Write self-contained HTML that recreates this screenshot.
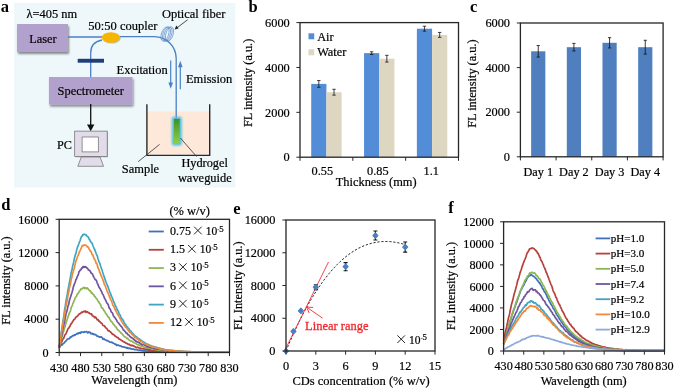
<!DOCTYPE html>
<html><head><meta charset="utf-8"><style>
html,body{margin:0;padding:0;background:#fff;width:675px;height:390px;overflow:hidden}
svg{display:block;font-family:"Liberation Serif", serif;will-change:transform}
</style></head><body>
<svg width="675" height="390" viewBox="0 0 675 390">
<rect width="675" height="390" fill="#fff"/>
<rect x="14" y="3" width="221.5" height="184.5" fill="#eef7fa"/>
<text x="0.8" y="12.2" font-size="16.5" font-weight="bold" fill="#000">a</text>
<defs><filter id="sh" x="-20%" y="-20%" width="140%" height="140%"><feGaussianBlur in="SourceAlpha" stdDeviation="0.9"/><feOffset dx="1.4" dy="1.6" result="b"/><feComponentTransfer><feFuncA type="linear" slope="0.45"/></feComponentTransfer><feMerge><feMergeNode/><feMergeNode in="SourceGraphic"/></feMerge></filter><filter id="glow" x="-80%" y="-40%" width="260%" height="180%"><feGaussianBlur stdDeviation="1.3"/></filter><linearGradient id="wg" x1="0" y1="0" x2="0" y2="1"><stop offset="0" stop-color="#3f8f2a"/><stop offset="1" stop-color="#8fd04a"/></linearGradient></defs>
<rect x="17" y="24" width="51" height="28" fill="#b3a1cd" filter="url(#sh)"/>
<rect x="49" y="77" width="83.5" height="27.6" fill="#b3a1cd" filter="url(#sh)"/>
<text x="29.3" y="42.6" font-size="12.3" text-anchor="start" fill="#000" stroke="#000" stroke-width="0.2" >Laser</text>
<text x="57.6" y="95.3" font-size="12.45" text-anchor="start" fill="#000" stroke="#000" stroke-width="0.2" >Spectrometer</text>
<text x="26.6" y="17.8" font-size="12.4" text-anchor="start" fill="#000" stroke="#000" stroke-width="0.2" >λ=405 nm</text>
<text x="88.3" y="30" font-size="12.5" text-anchor="start" fill="#000" stroke="#000" stroke-width="0.2" >50:50 coupler</text>
<text x="162" y="17.7" font-size="12.5" text-anchor="start" fill="#000" stroke="#000" stroke-width="0.2" >Optical fiber</text>
<text x="116.6" y="74.3" font-size="12.45" text-anchor="start" fill="#000" stroke="#000" stroke-width="0.2" >Excitation</text>
<text x="186" y="82.9" font-size="12.45" text-anchor="start" fill="#000" stroke="#000" stroke-width="0.2" >Emission</text>
<text x="57" y="148.9" font-size="12.2" text-anchor="start" fill="#000" stroke="#000" stroke-width="0.2" >PC</text>
<text x="121.8" y="172.9" font-size="12.45" text-anchor="start" fill="#000" stroke="#000" stroke-width="0.2" >Sample</text>
<text x="181.4" y="167.4" font-size="12.3" text-anchor="start" fill="#000" stroke="#000" stroke-width="0.2" >Hydrogel</text>
<text x="177.9" y="181.9" font-size="12.45" text-anchor="start" fill="#000" stroke="#000" stroke-width="0.2" >waveguide</text>
<path d="M68 37 H102" stroke="#4a7fc6" stroke-width="1.3" fill="none"/>
<path d="M120 36.6 H154.2 A22 22 0 0 1 176.2 58.6 V119" stroke="#4a7fc6" stroke-width="1.3" fill="none"/>
<path d="M102 40 Q90.7 42 90.7 53 V77" stroke="#4a7fc6" stroke-width="1.3" fill="none"/>
<ellipse cx="165.00" cy="34.1" rx="3.6" ry="7.4" transform="rotate(18 165.00 34.1)" stroke="#4a7fc6" stroke-width="0.6" fill="none"/>
<ellipse cx="166.50" cy="34.1" rx="3.6" ry="7.4" transform="rotate(18 166.50 34.1)" stroke="#4a7fc6" stroke-width="0.6" fill="none"/>
<ellipse cx="168.00" cy="34.1" rx="3.6" ry="7.4" transform="rotate(18 168.00 34.1)" stroke="#4a7fc6" stroke-width="0.6" fill="none"/>
<ellipse cx="169.50" cy="34.1" rx="3.6" ry="7.4" transform="rotate(18 169.50 34.1)" stroke="#4a7fc6" stroke-width="0.6" fill="none"/>
<ellipse cx="111.6" cy="38.3" rx="9.1" ry="5.2" fill="#9a8a70" opacity="0.5"/>
<ellipse cx="110.9" cy="37.5" rx="9.1" ry="5.2" fill="#f5b500"/>
<rect x="77.7" y="58.8" width="26.3" height="3.9" fill="#1f3e7a"/>
<path d="M90.7 104 V125" stroke="#111" stroke-width="1.3"/>
<path d="M87 124.5 L94.4 124.5 L90.7 131.2 Z" fill="#111"/>
<rect x="75.5" y="131.8" width="32.5" height="25.5" fill="#888" opacity="0.6"/>
<rect x="74.7" y="131.1" width="32.5" height="25.4" fill="#e2dbe9" stroke="#6a6a6a" stroke-width="0.7"/>
<rect x="82.1" y="137" width="16.2" height="14.9" fill="#fff" stroke="#6a6a6a" stroke-width="0.7"/>
<path d="M81.3 157 L100 157 L103.6 166.3 L77.8 166.3 Z" fill="#e2dbe9" stroke="#6a6a6a" stroke-width="0.7"/>
<rect x="147.6" y="111.5" width="61.4" height="43.3" fill="#fde8da"/>
<path d="M146.9 104.2 V155.4 H209.7 V104.2" stroke="#2a2a2a" stroke-width="1.4" fill="none"/>
<path d="M176.2 111.2 V119" stroke="#4a7fc6" stroke-width="1.3"/>
<rect x="171.8" y="116.8" width="10" height="28.6" rx="2" fill="#4cc3e0" opacity="1" filter="url(#glow)"/>
<rect x="173.9" y="118.9" width="5.8" height="24.5" fill="url(#wg)"/>
<path d="M170.7 60.4 V84" stroke="#4a7fc6" stroke-width="1.2"/>
<path d="M168.4 82.5 L173 82.5 L170.7 88.8 Z" fill="#4a7fc6"/>
<path d="M180.3 89.3 V66" stroke="#4a7fc6" stroke-width="1.2"/>
<path d="M178 67.2 L182.6 67.2 L180.3 60.8 Z" fill="#4a7fc6"/>
<path d="M138.2 161.7 L159.6 144.4" stroke="#333" stroke-width="0.8"/>
<path d="M180.4 138 L196.5 156.5" stroke="#333" stroke-width="0.8"/>
<path d="M187.7 19.7 L177 27.8" stroke="#222" stroke-width="0.8"/>
<path d="M174.6 29.5 L176.3 25.6 L178.6 28.6 Z" fill="#222"/>
<text x="248.6" y="12.4" font-size="16.5" font-weight="bold" fill="#000">b</text>
<rect x="311.22" y="83.91" width="15.2" height="73.29" fill="#538dd7"/>
<rect x="326.42" y="92.21" width="15.2" height="64.99" fill="#ddd6c1"/>
<path d="M318.81666666666666 80.54529999999998 V87.27529999999999 M317.1166666666667 80.54529999999998 H320.51666666666665 M317.1166666666667 87.27529999999999 H320.51666666666665" stroke="#151515" stroke-width="0.8" fill="none"/>
<path d="M334.0166666666667 89.29429999999999 V95.12696666666665 M332.3166666666667 89.29429999999999 H335.7166666666667 M332.3166666666667 95.12696666666665 H335.7166666666667" stroke="#151515" stroke-width="0.8" fill="none"/>
<rect x="364.05" y="53.11" width="15.2" height="104.09" fill="#538dd7"/>
<rect x="379.25" y="58.70" width="15.2" height="98.50" fill="#ddd6c1"/>
<path d="M371.65 51.76333333333332 V54.45533333333333 M369.95 51.76333333333332 H373.34999999999997 M369.95 54.45533333333333 H373.34999999999997" stroke="#151515" stroke-width="0.8" fill="none"/>
<path d="M386.85 55.330233333333325 V62.06023333333333 M385.15000000000003 55.330233333333325 H388.55 M385.15000000000003 62.06023333333333 H388.55" stroke="#151515" stroke-width="0.8" fill="none"/>
<rect x="416.88" y="28.70" width="15.2" height="128.50" fill="#538dd7"/>
<rect x="432.08" y="34.89" width="15.2" height="122.31" fill="#ddd6c1"/>
<path d="M424.48333333333335 26.234199999999987 V31.16953333333332 M422.78333333333336 26.234199999999987 H426.18333333333334 M422.78333333333336 31.16953333333332 H426.18333333333334" stroke="#151515" stroke-width="0.8" fill="none"/>
<path d="M439.6833333333334 32.425799999999995 V37.36113333333333 M437.9833333333334 32.425799999999995 H441.3833333333334 M437.9833333333334 37.36113333333333 H441.3833333333334" stroke="#151515" stroke-width="0.8" fill="none"/>
<rect x="300" y="22.6" width="158.5" height="134.6" fill="none" stroke="#262626" stroke-width="1.3"/>
<path d="M296.4 157.20 H300" stroke="#262626" stroke-width="1"/>
<text x="289.7" y="161.40" font-size="12.3" text-anchor="end" fill="#000" stroke="#000" stroke-width="0.2" >0</text>
<path d="M296.4 112.33 H300" stroke="#262626" stroke-width="1"/>
<text x="289.7" y="116.53" font-size="12.3" text-anchor="end" fill="#000" stroke="#000" stroke-width="0.2" >2000</text>
<path d="M296.4 67.47 H300" stroke="#262626" stroke-width="1"/>
<text x="289.7" y="71.67" font-size="12.3" text-anchor="end" fill="#000" stroke="#000" stroke-width="0.2" >4000</text>
<path d="M296.4 22.60 H300" stroke="#262626" stroke-width="1"/>
<text x="289.7" y="26.80" font-size="12.3" text-anchor="end" fill="#000" stroke="#000" stroke-width="0.2" >6000</text>
<path d="M300.00 157.2 V160.79999999999998" stroke="#262626" stroke-width="1"/>
<path d="M352.83 157.2 V160.79999999999998" stroke="#262626" stroke-width="1"/>
<path d="M405.67 157.2 V160.79999999999998" stroke="#262626" stroke-width="1"/>
<path d="M458.50 157.2 V160.79999999999998" stroke="#262626" stroke-width="1"/>
<text x="322.3" y="174.9" font-size="12.3" text-anchor="middle" fill="#000" stroke="#000" stroke-width="0.2" >0.55</text>
<text x="377.8" y="174.9" font-size="12.3" text-anchor="middle" fill="#000" stroke="#000" stroke-width="0.2" >0.85</text>
<text x="431.2" y="174.9" font-size="12.3" text-anchor="middle" fill="#000" stroke="#000" stroke-width="0.2" >1.1</text>
<text x="376.2" y="185.7" font-size="12.4" text-anchor="middle" fill="#000" stroke="#000" stroke-width="0.2" >Thickness (mm)</text>
<text x="252.3" y="82.9" font-size="12.3" text-anchor="middle" fill="#000" stroke="#000" stroke-width="0.2" transform="rotate(-90 252.3 82.9)">FL intensity (a.u.)</text>
<rect x="308.5" y="33.3" width="5.7" height="6" fill="#538dd7"/>
<rect x="308.5" y="49.3" width="5.7" height="6" fill="#ddd6c1"/>
<text x="317.2" y="40.8" font-size="12.3" text-anchor="start" fill="#000" stroke="#000" stroke-width="0.2" >Air</text>
<text x="317.2" y="56.3" font-size="12.3" text-anchor="start" fill="#000" stroke="#000" stroke-width="0.2" >Water</text>
<text x="470" y="12.4" font-size="16.5" font-weight="bold" fill="#000">c</text>
<rect x="531.14" y="51.30" width="14.2" height="105.50" fill="#4f7fbe"/>
<path d="M538.2375 45.54530000000001 V57.05210000000001 M536.6374999999999 45.54530000000001 H539.8375 M536.6374999999999 57.05210000000001 H539.8375" stroke="#151515" stroke-width="0.85" fill="none"/>
<rect x="566.81" y="47.20" width="14.2" height="109.60" fill="#4f7fbe"/>
<path d="M573.9125 43.40450000000001 V50.98650000000001 M572.3125 43.40450000000001 H575.5125 M572.3125 50.98650000000001 H575.5125" stroke="#151515" stroke-width="0.85" fill="none"/>
<rect x="602.49" y="42.80" width="14.2" height="114.00" fill="#4f7fbe"/>
<path d="M609.5875 37.673400000000015 V47.93140000000001 M607.9875 37.673400000000015 H611.1875 M607.9875 47.93140000000001 H611.1875" stroke="#151515" stroke-width="0.85" fill="none"/>
<rect x="638.16" y="47.20" width="14.2" height="109.60" fill="#4f7fbe"/>
<path d="M645.2625 40.28250000000001 V54.10850000000001 M643.6625 40.28250000000001 H646.8625000000001 M643.6625 54.10850000000001 H646.8625000000001" stroke="#151515" stroke-width="0.85" fill="none"/>
<rect x="520.4" y="23" width="142.70000000000005" height="133.8" fill="none" stroke="#262626" stroke-width="1.3"/>
<path d="M516.8 156.80 H520.4" stroke="#262626" stroke-width="1"/>
<text x="510" y="161.00" font-size="12.3" text-anchor="end" fill="#000" stroke="#000" stroke-width="0.2" >0</text>
<path d="M516.8 112.20 H520.4" stroke="#262626" stroke-width="1"/>
<text x="510" y="116.40" font-size="12.3" text-anchor="end" fill="#000" stroke="#000" stroke-width="0.2" >2000</text>
<path d="M516.8 67.60 H520.4" stroke="#262626" stroke-width="1"/>
<text x="510" y="71.80" font-size="12.3" text-anchor="end" fill="#000" stroke="#000" stroke-width="0.2" >4000</text>
<path d="M516.8 23.00 H520.4" stroke="#262626" stroke-width="1"/>
<text x="510" y="27.20" font-size="12.3" text-anchor="end" fill="#000" stroke="#000" stroke-width="0.2" >6000</text>
<path d="M520.40 156.8 V160.4" stroke="#262626" stroke-width="1"/>
<path d="M556.08 156.8 V160.4" stroke="#262626" stroke-width="1"/>
<path d="M591.75 156.8 V160.4" stroke="#262626" stroke-width="1"/>
<path d="M627.42 156.8 V160.4" stroke="#262626" stroke-width="1"/>
<path d="M663.10 156.8 V160.4" stroke="#262626" stroke-width="1"/>
<text x="538.24" y="175.9" font-size="12.25" text-anchor="middle" fill="#000" stroke="#000" stroke-width="0.2" >Day 1</text>
<text x="573.91" y="175.9" font-size="12.25" text-anchor="middle" fill="#000" stroke="#000" stroke-width="0.2" >Day 2</text>
<text x="609.59" y="175.9" font-size="12.25" text-anchor="middle" fill="#000" stroke="#000" stroke-width="0.2" >Day 3</text>
<text x="645.26" y="175.9" font-size="12.25" text-anchor="middle" fill="#000" stroke="#000" stroke-width="0.2" >Day 4</text>
<text x="475.7" y="83.6" font-size="12.3" text-anchor="middle" fill="#000" stroke="#000" stroke-width="0.2" transform="rotate(-90 475.7 83.6)">FL intensity (a.u.)</text>
<text x="1.2" y="209.6" font-size="16.5" font-weight="bold" fill="#000">d</text>
<polyline points="59.2,347.5 59.6,347.1 60.1,346.7 60.5,346.0 60.9,345.5 61.3,345.1 61.8,344.8 62.2,344.9 62.6,344.4 63.0,343.5 63.5,343.4 63.9,343.2 64.3,342.7 64.7,342.1 65.2,341.7 65.6,341.7 66.0,341.0 66.4,340.4 66.9,339.9 67.3,339.3 67.7,339.0 68.1,338.9 68.6,338.7 69.0,338.5 69.4,338.6 69.8,338.2 70.3,337.2 70.7,336.8 71.1,337.1 71.5,337.0 72.0,336.3 72.4,335.9 72.8,335.8 73.2,335.4 73.7,335.7 74.1,335.5 74.5,334.9 75.0,335.1 75.4,334.8 75.8,334.3 76.2,334.2 76.7,334.1 77.1,333.5 77.5,333.3 77.9,333.9 78.4,333.2 78.8,332.9 79.2,333.2 79.6,332.6 80.1,333.0 80.5,333.3 80.9,332.2 81.3,331.9 81.8,332.3 82.2,332.2 82.6,332.1 83.0,332.1 83.5,332.1 83.9,332.5 84.3,332.1 84.7,331.7 85.2,331.8 85.6,331.8 86.0,331.7 86.4,331.5 86.9,331.9 87.3,332.4 87.7,332.9 88.2,332.3 88.6,331.8 89.0,332.5 89.4,332.3 89.9,332.1 90.3,332.8 90.7,333.4 91.1,333.8 91.6,333.5 92.0,333.3 92.4,333.5 92.8,334.2 93.3,334.3 93.7,333.9 94.1,334.3 94.5,334.6 95.0,334.6 95.4,334.5 95.8,334.8 96.2,335.1 96.7,335.7 97.1,336.2 97.5,336.1 97.9,336.3 98.4,336.4 98.8,336.7 99.2,337.0 99.6,337.1 100.1,336.9 100.5,337.1 100.9,337.2 101.3,336.8 101.8,337.4 102.2,337.9 102.6,338.2 103.1,339.3 103.5,339.2 103.9,338.7 104.3,339.2 104.8,339.7 105.2,339.8 105.6,339.8 106.0,340.2 106.5,340.6 106.9,340.4 107.3,340.5 107.7,340.9 108.2,340.9 108.6,341.2 109.0,341.4 109.4,341.8 109.9,342.2 110.3,342.2 110.7,342.2 111.1,342.3 111.6,342.2 112.0,342.2 112.4,342.9 112.8,342.9 113.3,343.1 113.7,343.4 114.1,343.6 114.5,343.9 115.0,344.1 115.4,344.5 115.8,344.2 116.3,344.6 116.7,345.4 117.1,345.2 117.5,345.0 118.0,345.2 118.4,345.2 118.8,345.6 119.2,345.8 119.7,345.7 120.1,345.8 120.5,345.8 120.9,345.9 121.4,346.4 121.8,346.7 122.2,346.8 122.6,347.0 123.1,346.8 123.5,346.8 123.9,347.0 124.3,347.2 124.8,347.3 125.2,347.4 125.6,347.3 126.0,347.3 126.5,348.0 126.9,348.1 127.3,347.7 127.7,348.0 128.2,348.5 128.6,348.3 129.0,348.1 129.4,348.4 129.9,348.2 130.3,348.5 130.7,348.9 131.2,348.9 131.6,348.8 132.0,349.0 132.4,349.1 132.9,349.1 133.3,349.1 133.7,349.0 134.1,349.4 134.6,349.6 135.0,349.5 135.4,349.7 135.8,349.6 136.3,349.6 136.7,349.8 137.1,349.9 137.5,349.9 138.0,350.0 138.4,350.2 138.8,350.4 139.2,350.3 139.7,350.2 140.1,350.0 140.5,350.3 140.9,350.7 141.4,350.6 141.8,350.6 142.2,350.7 142.6,350.8 143.1,350.9 143.5,350.7 143.9,350.9 144.4,350.8 144.8,350.8 145.2,351.0 145.6,351.1 146.1,351.3 146.5,351.4 146.9,351.0 147.3,350.7 147.8,351.0 148.2,351.1 148.6,351.0 149.0,351.3 149.5,351.1 149.9,350.7 150.3,351.0 150.7,351.3 151.2,351.3 151.6,351.3 152.0,351.3 152.4,351.1 152.9,351.2 153.3,351.3 153.7,351.2 154.1,351.4 154.6,351.6 155.0,351.6 155.4,351.5 155.8,351.4 156.3,351.4 156.7,351.4 157.1,351.6 157.5,351.6 158.0,351.7 158.4,351.8 158.8,352.0 159.3,351.8 159.7,351.7 160.1,351.9 160.5,351.8 161.0,351.7 161.4,351.6 161.8,351.9 162.2,352.0 162.7,351.9 163.1,351.9 163.5,352.0 163.9,352.1 164.4,351.7 164.8,351.6 165.2,351.7 165.6,351.4 166.1,351.6 166.5,352.1 166.9,352.2 167.3,351.9 167.8,351.8 168.2,352.1 168.6,352.2 169.0,352.1 169.5,352.1 169.9,352.1 170.3,352.2 170.7,352.2 171.2,352.2 171.6,352.0 172.0,352.1 172.4,352.1 172.9,352.2 173.3,352.1 173.7,352.0 174.2,352.2 174.6,352.1 175.0,352.2 175.4,352.2 175.9,352.2 176.3,352.2 176.7,352.2 177.1,352.0 177.6,352.0 178.0,352.2 178.4,352.2 178.8,352.2 179.3,352.1 179.7,352.2 180.1,352.2 180.5,352.2 181.0,352.2 181.4,352.2 181.8,352.2 182.2,352.2 182.7,352.1 183.1,352.2 183.5,352.2 183.9,352.2 184.4,352.2 184.8,352.2 185.2,352.2 185.6,352.2 186.1,352.2 186.5,352.2 186.9,352.2 187.4,352.2 187.8,352.2 188.2,352.2 188.6,352.2 189.1,352.2 189.5,352.2 189.9,352.2 190.3,352.2 190.8,352.2 191.2,352.2 191.6,352.2 192.0,352.2 192.5,352.2 192.9,352.2 193.3,352.2 193.7,352.2 194.2,352.2 194.6,352.2 195.0,352.2 195.4,352.2 195.9,352.2 196.3,352.2 196.7,352.2 197.1,352.2 197.6,352.2 198.0,352.2 198.4,352.2 198.8,352.2 199.3,352.2 199.7,352.2 200.1,352.2 200.5,352.2 201.0,352.2 201.4,352.2 201.8,352.2 202.3,352.2 202.7,352.2 203.1,352.2 203.5,352.2 204.0,352.2 204.4,352.2 204.8,352.2 205.2,352.2 205.7,352.2 206.1,352.2 206.5,352.2 206.9,352.2 207.4,352.2 207.8,352.2 208.2,352.2 208.6,352.2 209.1,352.2 209.5,352.2 209.9,352.2 210.3,352.2 210.8,352.2 211.2,352.2 211.6,352.2 212.0,352.2 212.5,352.2 212.9,352.2 213.3,352.2 213.7,352.2 214.2,352.2 214.6,352.2 215.0,352.2 215.5,352.2 215.9,352.2 216.3,352.2 216.7,352.2 217.2,352.2 217.6,352.2 218.0,352.2 218.4,352.2 218.9,352.2 219.3,352.2 219.7,352.2 220.1,352.2 220.6,352.2 221.0,352.2 221.4,352.2 221.8,352.2 222.3,352.2 222.7,352.2 223.1,352.2 223.5,352.2 224.0,352.2 224.4,352.2 224.8,352.2 225.2,352.2 225.7,352.2 226.1,352.2 226.5,352.2 226.9,352.2 227.4,352.2 227.8,352.2 228.2,352.2 228.6,352.2 229.1,352.2 229.5,352.2" fill="none" stroke="#3f72b8" stroke-width="1.7" stroke-linejoin="round"/>
<polyline points="59.2,347.6 59.6,346.5 60.1,345.7 60.5,344.8 60.9,343.5 61.3,342.3 61.8,341.7 62.2,341.1 62.6,339.6 63.0,338.9 63.5,338.6 63.9,337.7 64.3,336.6 64.7,335.4 65.2,334.4 65.6,334.2 66.0,333.6 66.4,332.6 66.9,331.7 67.3,330.5 67.7,329.5 68.1,328.6 68.6,328.5 69.0,327.6 69.4,326.9 69.8,326.6 70.3,325.3 70.7,324.4 71.1,323.9 71.5,323.4 72.0,322.7 72.4,321.9 72.8,321.3 73.2,320.7 73.7,319.8 74.1,319.5 74.5,319.5 75.0,318.6 75.4,317.8 75.8,317.5 76.2,316.8 76.7,316.7 77.1,316.4 77.5,316.1 77.9,315.6 78.4,314.9 78.8,314.6 79.2,313.9 79.6,313.8 80.1,313.7 80.5,313.4 80.9,313.1 81.3,312.4 81.8,312.1 82.2,312.2 82.6,312.4 83.0,311.9 83.5,311.5 83.9,311.3 84.3,311.5 84.7,311.7 85.2,311.0 85.6,311.4 86.0,312.4 86.4,312.0 86.9,311.5 87.3,311.9 87.7,312.0 88.2,312.6 88.6,312.9 89.0,312.7 89.4,313.4 89.9,313.6 90.3,313.8 90.7,314.0 91.1,313.8 91.6,313.8 92.0,315.0 92.4,315.8 92.8,315.6 93.3,316.1 93.7,316.4 94.1,316.7 94.5,317.6 95.0,317.7 95.4,317.0 95.8,317.4 96.2,317.9 96.7,318.8 97.1,319.8 97.5,319.7 97.9,319.5 98.4,320.1 98.8,321.2 99.2,321.0 99.6,321.2 100.1,322.0 100.5,322.6 100.9,323.0 101.3,323.1 101.8,323.4 102.2,323.7 102.6,324.8 103.1,325.7 103.5,325.7 103.9,325.7 104.3,325.7 104.8,326.3 105.2,327.1 105.6,327.6 106.0,328.0 106.5,328.2 106.9,328.6 107.3,329.3 107.7,330.0 108.2,330.9 108.6,330.9 109.0,330.7 109.4,331.1 109.9,331.5 110.3,331.7 110.7,332.2 111.1,332.6 111.6,333.1 112.0,333.7 112.4,333.9 112.8,334.3 113.3,334.4 113.7,334.6 114.1,335.0 114.5,335.5 115.0,335.9 115.4,336.4 115.8,336.3 116.3,336.7 116.7,337.0 117.1,337.2 117.5,337.7 118.0,337.7 118.4,338.1 118.8,338.8 119.2,339.1 119.7,339.2 120.1,339.5 120.5,339.6 120.9,339.9 121.4,340.3 121.8,340.6 122.2,340.7 122.6,341.0 123.1,341.5 123.5,341.7 123.9,341.8 124.3,342.2 124.8,342.2 125.2,342.4 125.6,343.0 126.0,343.1 126.5,343.4 126.9,343.4 127.3,343.5 127.7,343.9 128.2,344.3 128.6,344.4 129.0,344.2 129.4,344.5 129.9,345.1 130.3,345.4 130.7,345.4 131.2,345.1 131.6,345.4 132.0,345.8 132.4,345.4 132.9,345.6 133.3,345.9 133.7,345.8 134.1,346.1 134.6,346.7 135.0,346.8 135.4,346.8 135.8,347.3 136.3,347.6 136.7,347.5 137.1,347.3 137.5,347.2 138.0,347.3 138.4,347.7 138.8,347.9 139.2,348.0 139.7,348.2 140.1,348.2 140.5,348.1 140.9,348.4 141.4,348.6 141.8,348.8 142.2,348.8 142.6,348.7 143.1,348.8 143.5,348.8 143.9,348.6 144.4,348.9 144.8,349.2 145.2,349.3 145.6,349.1 146.1,349.1 146.5,349.3 146.9,349.3 147.3,349.2 147.8,349.3 148.2,349.8 148.6,350.0 149.0,349.9 149.5,349.9 149.9,350.1 150.3,349.8 150.7,349.8 151.2,350.2 151.6,350.4 152.0,350.6 152.4,350.7 152.9,350.6 153.3,350.5 153.7,350.6 154.1,350.6 154.6,350.5 155.0,350.7 155.4,351.0 155.8,350.9 156.3,350.7 156.7,350.8 157.1,351.0 157.5,351.1 158.0,351.1 158.4,351.0 158.8,350.9 159.3,351.0 159.7,351.1 160.1,351.3 160.5,351.1 161.0,350.9 161.4,351.1 161.8,351.2 162.2,351.0 162.7,351.2 163.1,351.5 163.5,351.5 163.9,351.4 164.4,351.5 164.8,351.5 165.2,351.6 165.6,351.5 166.1,351.3 166.5,351.5 166.9,351.5 167.3,351.6 167.8,351.7 168.2,351.6 168.6,351.6 169.0,351.6 169.5,351.7 169.9,351.7 170.3,351.6 170.7,351.8 171.2,352.1 171.6,352.2 172.0,352.0 172.4,351.8 172.9,352.0 173.3,352.0 173.7,351.7 174.2,351.8 174.6,351.9 175.0,351.9 175.4,351.7 175.9,351.6 176.3,351.9 176.7,351.9 177.1,351.9 177.6,352.0 178.0,352.1 178.4,352.0 178.8,352.0 179.3,352.0 179.7,351.9 180.1,351.9 180.5,352.1 181.0,352.2 181.4,352.0 181.8,352.0 182.2,352.0 182.7,352.2 183.1,352.0 183.5,351.9 183.9,352.0 184.4,352.2 184.8,352.2 185.2,352.2 185.6,352.2 186.1,352.2 186.5,352.2 186.9,352.1 187.4,352.2 187.8,352.2 188.2,352.2 188.6,352.2 189.1,352.2 189.5,352.2 189.9,352.2 190.3,352.2 190.8,352.1 191.2,352.1 191.6,352.2 192.0,352.2 192.5,352.2 192.9,352.2 193.3,352.1 193.7,352.2 194.2,352.2 194.6,352.2 195.0,352.2 195.4,352.2 195.9,352.1 196.3,352.2 196.7,352.2 197.1,352.2 197.6,352.2 198.0,352.2 198.4,352.2 198.8,352.1 199.3,352.2 199.7,352.2 200.1,352.2 200.5,352.2 201.0,352.2 201.4,352.2 201.8,352.2 202.3,352.2 202.7,352.2 203.1,352.2 203.5,352.2 204.0,352.2 204.4,352.2 204.8,352.2 205.2,352.2 205.7,352.2 206.1,352.2 206.5,352.2 206.9,352.2 207.4,352.2 207.8,352.2 208.2,352.2 208.6,352.2 209.1,352.2 209.5,352.2 209.9,352.2 210.3,352.2 210.8,352.2 211.2,352.2 211.6,352.2 212.0,352.2 212.5,352.2 212.9,352.2 213.3,352.2 213.7,352.2 214.2,352.2 214.6,352.2 215.0,352.2 215.5,352.2 215.9,352.2 216.3,352.2 216.7,352.2 217.2,352.2 217.6,352.2 218.0,352.2 218.4,352.2 218.9,352.2 219.3,352.2 219.7,352.2 220.1,352.2 220.6,352.2 221.0,352.2 221.4,352.2 221.8,352.2 222.3,352.2 222.7,352.2 223.1,352.2 223.5,352.2 224.0,352.2 224.4,352.2 224.8,352.2 225.2,352.2 225.7,352.2 226.1,352.2 226.5,352.2 226.9,352.2 227.4,352.2 227.8,352.2 228.2,352.2 228.6,352.2 229.1,352.2 229.5,352.2" fill="none" stroke="#b8403c" stroke-width="1.7" stroke-linejoin="round"/>
<polyline points="59.2,347.6 59.6,345.9 60.1,344.3 60.5,342.7 60.9,341.2 61.3,339.7 61.8,338.0 62.2,336.5 62.6,334.6 63.0,333.0 63.5,331.7 63.9,330.3 64.3,328.6 64.7,327.5 65.2,326.4 65.6,324.4 66.0,322.6 66.4,321.4 66.9,320.5 67.3,319.1 67.7,317.8 68.1,316.5 68.6,315.4 69.0,314.1 69.4,312.8 69.8,312.0 70.3,311.5 70.7,309.9 71.1,307.9 71.5,306.9 72.0,306.1 72.4,305.0 72.8,303.6 73.2,302.9 73.7,301.8 74.1,300.6 74.5,299.8 75.0,298.5 75.4,297.4 75.8,297.0 76.2,296.6 76.7,295.9 77.1,294.5 77.5,293.7 77.9,293.7 78.4,293.3 78.8,292.4 79.2,291.4 79.6,291.0 80.1,290.5 80.5,289.5 80.9,288.9 81.3,289.3 81.8,289.2 82.2,288.7 82.6,288.2 83.0,287.9 83.5,287.7 83.9,287.3 84.3,288.3 84.7,288.6 85.2,287.8 85.6,287.7 86.0,288.1 86.4,288.6 86.9,288.6 87.3,287.9 87.7,288.3 88.2,289.1 88.6,289.5 89.0,290.2 89.4,290.6 89.9,290.9 90.3,290.8 90.7,291.3 91.1,292.7 91.6,293.1 92.0,293.0 92.4,293.3 92.8,294.3 93.3,294.5 93.7,294.5 94.1,295.5 94.5,296.3 95.0,296.6 95.4,297.1 95.8,297.7 96.2,298.3 96.7,298.9 97.1,299.2 97.5,299.9 97.9,301.1 98.4,301.5 98.8,301.8 99.2,302.9 99.6,303.4 100.1,303.9 100.5,304.6 100.9,305.5 101.3,307.1 101.8,308.0 102.2,308.0 102.6,308.3 103.1,309.1 103.5,309.6 103.9,310.6 104.3,310.9 104.8,311.5 105.2,312.5 105.6,313.2 106.0,313.9 106.5,314.1 106.9,314.8 107.3,315.8 107.7,316.3 108.2,316.9 108.6,317.4 109.0,317.4 109.4,318.4 109.9,319.7 110.3,320.1 110.7,320.5 111.1,321.3 111.6,321.8 112.0,322.0 112.4,322.6 112.8,323.6 113.3,323.9 113.7,324.5 114.1,325.2 114.5,325.2 115.0,326.2 115.4,326.9 115.8,326.9 116.3,327.4 116.7,328.3 117.1,329.2 117.5,329.4 118.0,329.7 118.4,330.4 118.8,330.6 119.2,331.0 119.7,331.6 120.1,331.9 120.5,332.2 120.9,332.8 121.4,333.3 121.8,333.6 122.2,333.9 122.6,334.6 123.1,335.1 123.5,335.5 123.9,336.0 124.3,336.4 124.8,336.9 125.2,337.0 125.6,337.1 126.0,337.5 126.5,338.0 126.9,338.7 127.3,338.4 127.7,338.2 128.2,339.0 128.6,339.6 129.0,339.9 129.4,340.1 129.9,340.3 130.3,340.7 130.7,340.9 131.2,341.2 131.6,341.1 132.0,341.3 132.4,341.8 132.9,342.1 133.3,342.4 133.7,342.4 134.1,342.7 134.6,342.9 135.0,343.0 135.4,343.1 135.8,343.4 136.3,344.0 136.7,344.3 137.1,344.4 137.5,344.6 138.0,344.8 138.4,344.8 138.8,345.1 139.2,345.5 139.7,345.5 140.1,345.5 140.5,345.7 140.9,345.9 141.4,345.9 141.8,346.2 142.2,346.4 142.6,346.5 143.1,346.6 143.5,346.7 143.9,347.0 144.4,347.0 144.8,347.4 145.2,347.6 145.6,347.7 146.1,347.9 146.5,347.7 146.9,347.6 147.3,347.9 147.8,348.1 148.2,348.1 148.6,348.2 149.0,348.0 149.5,348.2 149.9,348.2 150.3,348.4 150.7,348.7 151.2,348.6 151.6,348.8 152.0,349.0 152.4,348.9 152.9,348.7 153.3,348.9 153.7,348.9 154.1,349.0 154.6,349.5 155.0,349.6 155.4,349.6 155.8,349.6 156.3,349.6 156.7,349.8 157.1,349.8 157.5,350.0 158.0,350.3 158.4,350.3 158.8,350.2 159.3,350.1 159.7,350.2 160.1,350.3 160.5,350.4 161.0,350.5 161.4,350.6 161.8,350.5 162.2,350.3 162.7,350.7 163.1,350.7 163.5,350.5 163.9,350.6 164.4,350.6 164.8,350.7 165.2,351.1 165.6,351.3 166.1,350.9 166.5,350.7 166.9,350.9 167.3,351.1 167.8,351.1 168.2,350.9 168.6,351.2 169.0,351.4 169.5,351.3 169.9,351.1 170.3,351.0 170.7,351.1 171.2,351.0 171.6,351.2 172.0,351.4 172.4,351.4 172.9,351.7 173.3,351.8 173.7,351.5 174.2,351.5 174.6,351.7 175.0,351.6 175.4,351.4 175.9,351.5 176.3,351.4 176.7,351.6 177.1,351.6 177.6,351.3 178.0,351.6 178.4,351.7 178.8,351.7 179.3,351.8 179.7,351.8 180.1,351.9 180.5,351.7 181.0,351.6 181.4,351.8 181.8,351.8 182.2,351.9 182.7,351.8 183.1,351.7 183.5,351.9 183.9,352.0 184.4,351.9 184.8,352.1 185.2,352.2 185.6,352.1 186.1,351.9 186.5,352.2 186.9,352.2 187.4,352.1 187.8,352.0 188.2,352.0 188.6,352.0 189.1,352.0 189.5,352.1 189.9,352.1 190.3,352.0 190.8,351.9 191.2,352.0 191.6,352.0 192.0,352.0 192.5,352.2 192.9,352.2 193.3,352.2 193.7,352.2 194.2,352.2 194.6,352.2 195.0,352.1 195.4,352.2 195.9,352.2 196.3,352.2 196.7,352.2 197.1,352.2 197.6,352.1 198.0,352.1 198.4,352.2 198.8,352.2 199.3,352.2 199.7,352.2 200.1,352.0 200.5,352.0 201.0,352.0 201.4,352.1 201.8,352.2 202.3,352.2 202.7,352.2 203.1,352.1 203.5,352.2 204.0,352.2 204.4,352.2 204.8,352.2 205.2,352.2 205.7,352.2 206.1,352.2 206.5,352.2 206.9,352.2 207.4,352.2 207.8,352.2 208.2,352.2 208.6,352.2 209.1,352.2 209.5,352.2 209.9,352.2 210.3,352.2 210.8,352.2 211.2,352.2 211.6,352.2 212.0,352.2 212.5,352.2 212.9,352.2 213.3,352.2 213.7,352.2 214.2,352.2 214.6,352.2 215.0,352.2 215.5,352.2 215.9,352.2 216.3,352.2 216.7,352.2 217.2,352.2 217.6,352.2 218.0,352.2 218.4,352.2 218.9,352.2 219.3,352.2 219.7,352.2 220.1,352.2 220.6,352.2 221.0,352.2 221.4,352.2 221.8,352.2 222.3,352.2 222.7,352.2 223.1,352.2 223.5,352.2 224.0,352.2 224.4,352.2 224.8,352.2 225.2,352.2 225.7,352.2 226.1,352.2 226.5,352.2 226.9,352.2 227.4,352.2 227.8,352.2 228.2,352.2 228.6,352.2 229.1,352.2 229.5,352.2" fill="none" stroke="#8fb552" stroke-width="1.7" stroke-linejoin="round"/>
<polyline points="59.2,347.5 59.6,345.0 60.1,342.7 60.5,340.8 60.9,338.9 61.3,336.9 61.8,334.7 62.2,332.4 62.6,330.2 63.0,328.3 63.5,326.4 63.9,324.4 64.3,322.9 64.7,320.8 65.2,318.2 65.6,316.2 66.0,314.3 66.4,312.4 66.9,311.2 67.3,309.8 67.7,307.4 68.1,305.8 68.6,304.7 69.0,302.8 69.4,300.7 69.8,299.1 70.3,297.8 70.7,296.5 71.1,295.2 71.5,293.9 72.0,292.4 72.4,291.0 72.8,289.5 73.2,287.4 73.7,285.8 74.1,285.0 74.5,283.7 75.0,282.6 75.4,281.5 75.8,279.8 76.2,279.2 76.7,278.5 77.1,277.1 77.5,276.2 77.9,275.5 78.4,274.4 78.8,272.5 79.2,271.4 79.6,271.1 80.1,270.3 80.5,269.8 80.9,269.8 81.3,269.0 81.8,267.8 82.2,268.1 82.6,267.9 83.0,266.6 83.5,266.5 83.9,267.0 84.3,266.7 84.7,266.9 85.2,267.1 85.6,266.7 86.0,267.1 86.4,267.8 86.9,267.9 87.3,268.0 87.7,268.5 88.2,269.7 88.6,269.9 89.0,269.9 89.4,270.6 89.9,270.6 90.3,271.4 90.7,272.2 91.1,273.0 91.6,273.4 92.0,273.5 92.4,273.9 92.8,274.9 93.3,275.9 93.7,276.9 94.1,277.6 94.5,278.2 95.0,279.3 95.4,279.8 95.8,279.8 96.2,280.2 96.7,281.1 97.1,282.7 97.5,283.7 97.9,284.4 98.4,285.7 98.8,286.7 99.2,287.6 99.6,288.0 100.1,288.6 100.5,289.5 100.9,290.5 101.3,291.2 101.8,292.1 102.2,293.5 102.6,294.0 103.1,294.5 103.5,295.6 103.9,296.5 104.3,297.8 104.8,298.6 105.2,299.5 105.6,300.0 106.0,300.9 106.5,302.1 106.9,302.8 107.3,303.8 107.7,303.9 108.2,304.5 108.6,306.0 109.0,307.4 109.4,308.3 109.9,308.8 110.3,309.2 110.7,310.2 111.1,311.8 111.6,312.2 112.0,312.5 112.4,312.9 112.8,313.9 113.3,315.6 113.7,316.3 114.1,316.7 114.5,317.4 115.0,317.6 115.4,318.5 115.8,319.1 116.3,319.5 116.7,320.5 117.1,321.3 117.5,322.0 118.0,322.5 118.4,322.9 118.8,323.2 119.2,324.0 119.7,324.7 120.1,325.0 120.5,325.5 120.9,326.2 121.4,326.6 121.8,327.0 122.2,327.6 122.6,328.4 123.1,329.3 123.5,330.2 123.9,330.3 124.3,330.3 124.8,331.3 125.2,331.8 125.6,332.0 126.0,332.9 126.5,333.3 126.9,333.2 127.3,333.5 127.7,334.2 128.2,334.9 128.6,335.0 129.0,335.1 129.4,335.8 129.9,336.5 130.3,336.7 130.7,337.0 131.2,337.6 131.6,337.5 132.0,337.7 132.4,338.4 132.9,338.7 133.3,338.6 133.7,339.0 134.1,339.8 134.6,340.4 135.0,340.2 135.4,340.6 135.8,341.1 136.3,341.1 136.7,341.7 137.1,342.0 137.5,342.1 138.0,342.0 138.4,342.3 138.8,342.6 139.2,342.4 139.7,343.1 140.1,343.8 140.5,343.9 140.9,343.9 141.4,344.0 141.8,344.6 142.2,344.8 142.6,344.8 143.1,344.6 143.5,344.7 143.9,344.8 144.4,344.7 144.8,345.2 145.2,345.5 145.6,345.6 146.1,345.9 146.5,346.4 146.9,346.7 147.3,346.6 147.8,346.7 148.2,346.8 148.6,346.7 149.0,347.1 149.5,347.1 149.9,347.0 150.3,347.2 150.7,347.3 151.2,347.8 151.6,347.8 152.0,347.8 152.4,347.9 152.9,347.8 153.3,347.9 153.7,348.3 154.1,348.9 154.6,348.8 155.0,348.6 155.4,348.7 155.8,348.8 156.3,348.9 156.7,349.1 157.1,349.1 157.5,349.2 158.0,349.2 158.4,349.2 158.8,349.1 159.3,349.2 159.7,349.3 160.1,349.4 160.5,349.5 161.0,349.6 161.4,349.8 161.8,349.7 162.2,349.7 162.7,349.8 163.1,350.0 163.5,350.4 163.9,350.4 164.4,350.3 164.8,350.4 165.2,350.3 165.6,350.4 166.1,350.5 166.5,350.1 166.9,350.5 167.3,351.0 167.8,350.7 168.2,350.6 168.6,350.7 169.0,350.7 169.5,350.6 169.9,350.6 170.3,350.8 170.7,351.0 171.2,351.1 171.6,351.1 172.0,351.3 172.4,351.2 172.9,351.0 173.3,350.9 173.7,350.8 174.2,351.2 174.6,351.3 175.0,351.2 175.4,351.3 175.9,351.2 176.3,351.2 176.7,351.3 177.1,351.3 177.6,351.4 178.0,351.6 178.4,351.5 178.8,351.3 179.3,351.4 179.7,351.5 180.1,351.6 180.5,351.9 181.0,351.9 181.4,351.7 181.8,351.6 182.2,351.6 182.7,351.5 183.1,351.5 183.5,351.6 183.9,351.7 184.4,351.8 184.8,351.8 185.2,351.7 185.6,351.7 186.1,351.9 186.5,352.0 186.9,352.1 187.4,352.1 187.8,352.1 188.2,352.0 188.6,352.0 189.1,352.2 189.5,352.1 189.9,351.9 190.3,352.2 190.8,352.2 191.2,352.1 191.6,352.2 192.0,352.1 192.5,352.0 192.9,352.0 193.3,351.9 193.7,351.9 194.2,352.0 194.6,352.1 195.0,352.1 195.4,352.0 195.9,352.1 196.3,352.2 196.7,352.2 197.1,352.2 197.6,352.1 198.0,352.2 198.4,352.2 198.8,352.0 199.3,352.1 199.7,352.2 200.1,352.2 200.5,352.1 201.0,352.2 201.4,352.2 201.8,352.2 202.3,352.2 202.7,352.1 203.1,352.2 203.5,352.2 204.0,352.2 204.4,352.2 204.8,352.2 205.2,352.2 205.7,352.2 206.1,352.2 206.5,352.2 206.9,352.2 207.4,352.2 207.8,352.0 208.2,352.1 208.6,352.2 209.1,352.2 209.5,352.2 209.9,352.2 210.3,352.1 210.8,352.2 211.2,352.2 211.6,352.2 212.0,352.2 212.5,352.2 212.9,352.2 213.3,352.2 213.7,352.2 214.2,352.2 214.6,352.2 215.0,352.2 215.5,352.2 215.9,352.2 216.3,352.2 216.7,352.2 217.2,352.2 217.6,352.2 218.0,352.2 218.4,352.2 218.9,352.2 219.3,352.2 219.7,352.2 220.1,352.1 220.6,352.2 221.0,352.2 221.4,352.2 221.8,352.2 222.3,352.2 222.7,352.2 223.1,352.2 223.5,352.2 224.0,352.2 224.4,352.2 224.8,352.2 225.2,352.2 225.7,352.2 226.1,352.2 226.5,352.2 226.9,352.2 227.4,352.2 227.8,352.2 228.2,352.2 228.6,352.2 229.1,352.2 229.5,352.2" fill="none" stroke="#6f55a0" stroke-width="1.7" stroke-linejoin="round"/>
<polyline points="59.2,347.4 59.6,344.3 60.1,341.2 60.5,338.0 60.9,335.4 61.3,332.4 61.8,329.1 62.2,326.5 62.6,323.7 63.0,320.6 63.5,317.9 63.9,315.4 64.3,312.1 64.7,309.0 65.2,306.6 65.6,303.9 66.0,301.3 66.4,298.8 66.9,296.6 67.3,294.1 67.7,291.6 68.1,289.5 68.6,286.9 69.0,284.5 69.4,282.8 69.8,280.6 70.3,277.9 70.7,275.6 71.1,273.4 71.5,271.4 72.0,269.8 72.4,267.5 72.8,265.3 73.2,263.9 73.7,262.0 74.1,259.9 74.5,258.0 75.0,256.0 75.4,254.5 75.8,253.7 76.2,252.2 76.7,249.9 77.1,248.4 77.5,247.1 77.9,246.1 78.4,244.9 78.8,244.0 79.2,242.9 79.6,241.6 80.1,240.6 80.5,239.3 80.9,237.9 81.3,236.9 81.8,236.5 82.2,235.9 82.6,234.7 83.0,234.6 83.5,234.8 83.9,234.2 84.3,234.3 84.7,234.5 85.2,234.8 85.6,234.7 86.0,234.6 86.4,235.4 86.9,236.1 87.3,236.3 87.7,236.6 88.2,237.0 88.6,237.7 89.0,238.9 89.4,239.2 89.9,240.0 90.3,241.3 90.7,241.5 91.1,242.3 91.6,242.8 92.0,243.0 92.4,243.9 92.8,245.2 93.3,246.5 93.7,247.4 94.1,248.6 94.5,249.1 95.0,250.3 95.4,251.6 95.8,252.4 96.2,253.8 96.7,254.7 97.1,255.6 97.5,256.8 97.9,258.4 98.4,260.0 98.8,261.3 99.2,262.1 99.6,263.0 100.1,264.2 100.5,265.7 100.9,266.7 101.3,268.1 101.8,269.7 102.2,270.4 102.6,271.9 103.1,273.6 103.5,274.8 103.9,276.0 104.3,277.2 104.8,278.4 105.2,279.9 105.6,280.8 106.0,282.0 106.5,283.3 106.9,284.1 107.3,285.1 107.7,286.1 108.2,287.7 108.6,288.6 109.0,289.7 109.4,291.2 109.9,292.3 110.3,292.8 110.7,293.8 111.1,295.5 111.6,296.5 112.0,297.4 112.4,298.1 112.8,299.3 113.3,300.7 113.7,301.7 114.1,302.5 114.5,303.4 115.0,304.7 115.4,305.7 115.8,306.5 116.3,307.1 116.7,308.7 117.1,309.6 117.5,309.8 118.0,310.8 118.4,311.6 118.8,312.8 119.2,314.2 119.7,314.6 120.1,314.7 120.5,315.9 120.9,317.2 121.4,317.9 121.8,318.7 122.2,319.1 122.6,319.6 123.1,320.2 123.5,320.6 123.9,321.8 124.3,322.6 124.8,323.5 125.2,324.3 125.6,324.4 126.0,325.1 126.5,326.2 126.9,326.7 127.3,326.8 127.7,327.3 128.2,328.4 128.6,328.8 129.0,328.9 129.4,329.7 129.9,330.4 130.3,330.6 130.7,331.0 131.2,331.5 131.6,332.1 132.0,332.7 132.4,333.3 132.9,333.9 133.3,333.9 133.7,334.3 134.1,335.1 134.6,335.5 135.0,335.9 135.4,336.1 135.8,336.2 136.3,336.8 136.7,337.2 137.1,337.1 137.5,337.7 138.0,338.3 138.4,338.4 138.8,338.7 139.2,338.8 139.7,339.2 140.1,339.6 140.5,340.2 140.9,340.2 141.4,340.5 141.8,341.0 142.2,341.0 142.6,341.5 143.1,341.9 143.5,341.9 143.9,342.4 144.4,342.7 144.8,342.7 145.2,343.1 145.6,343.5 146.1,343.6 146.5,343.8 146.9,344.0 147.3,344.2 147.8,344.4 148.2,344.4 148.6,344.9 149.0,345.2 149.5,345.2 149.9,345.6 150.3,345.8 150.7,345.6 151.2,345.8 151.6,345.9 152.0,346.1 152.4,346.6 152.9,346.5 153.3,346.4 153.7,346.6 154.1,346.9 154.6,346.9 155.0,347.1 155.4,347.1 155.8,347.1 156.3,347.4 156.7,347.5 157.1,347.7 157.5,347.7 158.0,347.9 158.4,348.1 158.8,348.1 159.3,348.0 159.7,348.1 160.1,348.4 160.5,348.5 161.0,348.6 161.4,348.9 161.8,349.1 162.2,349.2 162.7,349.2 163.1,348.9 163.5,349.2 163.9,349.4 164.4,349.5 164.8,349.5 165.2,349.6 165.6,349.8 166.1,349.8 166.5,349.8 166.9,349.9 167.3,349.9 167.8,349.9 168.2,350.1 168.6,350.1 169.0,350.2 169.5,350.3 169.9,350.3 170.3,350.3 170.7,350.3 171.2,350.5 171.6,350.6 172.0,350.3 172.4,350.3 172.9,350.4 173.3,350.8 173.7,350.9 174.2,350.8 174.6,350.7 175.0,350.7 175.4,350.9 175.9,351.1 176.3,351.0 176.7,350.9 177.1,351.1 177.6,350.9 178.0,350.9 178.4,351.0 178.8,350.8 179.3,351.0 179.7,351.3 180.1,351.2 180.5,351.1 181.0,351.3 181.4,351.5 181.8,351.4 182.2,351.6 182.7,351.5 183.1,351.4 183.5,351.5 183.9,351.4 184.4,351.5 184.8,351.5 185.2,351.6 185.6,351.7 186.1,351.6 186.5,351.5 186.9,351.6 187.4,351.6 187.8,351.5 188.2,351.6 188.6,351.6 189.1,351.6 189.5,351.7 189.9,351.9 190.3,352.1 190.8,351.9 191.2,351.8 191.6,352.0 192.0,352.1 192.5,351.9 192.9,351.9 193.3,351.9 193.7,352.0 194.2,352.0 194.6,352.1 195.0,352.0 195.4,351.9 195.9,351.9 196.3,352.0 196.7,352.1 197.1,351.9 197.6,352.1 198.0,352.2 198.4,352.0 198.8,351.9 199.3,351.9 199.7,351.9 200.1,352.1 200.5,352.0 201.0,352.0 201.4,352.0 201.8,352.0 202.3,352.1 202.7,352.2 203.1,352.1 203.5,351.9 204.0,352.1 204.4,352.2 204.8,352.1 205.2,352.1 205.7,352.1 206.1,352.1 206.5,352.2 206.9,352.2 207.4,352.2 207.8,352.2 208.2,352.1 208.6,352.1 209.1,352.2 209.5,352.2 209.9,352.2 210.3,352.2 210.8,352.2 211.2,352.1 211.6,352.2 212.0,352.2 212.5,352.2 212.9,352.1 213.3,352.1 213.7,352.2 214.2,352.1 214.6,352.2 215.0,352.2 215.5,352.1 215.9,352.2 216.3,352.2 216.7,352.2 217.2,352.2 217.6,352.2 218.0,352.2 218.4,352.2 218.9,352.2 219.3,352.2 219.7,352.2 220.1,352.2 220.6,352.2 221.0,352.2 221.4,352.2 221.8,352.2 222.3,352.2 222.7,352.2 223.1,352.2 223.5,352.2 224.0,352.2 224.4,352.2 224.8,352.2 225.2,352.2 225.7,352.2 226.1,352.2 226.5,352.2 226.9,352.2 227.4,352.2 227.8,352.2 228.2,352.2 228.6,352.2 229.1,352.2 229.5,352.2" fill="none" stroke="#3ea6c2" stroke-width="1.7" stroke-linejoin="round"/>
<polyline points="59.2,347.4 59.6,344.5 60.1,341.6 60.5,338.8 60.9,336.4 61.3,333.5 61.8,330.7 62.2,328.5 62.6,325.9 63.0,323.2 63.5,320.5 63.9,318.2 64.3,316.2 64.7,313.5 65.2,310.5 65.6,307.8 66.0,306.1 66.4,304.4 66.9,301.9 67.3,299.6 67.7,297.2 68.1,294.6 68.6,292.6 69.0,290.7 69.4,288.2 69.8,286.3 70.3,285.0 70.7,282.6 71.1,279.9 71.5,278.4 72.0,276.8 72.4,274.2 72.8,272.9 73.2,271.8 73.7,269.8 74.1,268.7 74.5,267.2 75.0,264.9 75.4,263.4 75.8,261.8 76.2,260.2 76.7,259.2 77.1,257.9 77.5,256.4 77.9,255.8 78.4,255.0 78.8,253.6 79.2,252.5 79.6,251.4 80.1,250.7 80.5,249.7 80.9,249.0 81.3,248.0 81.8,246.7 82.2,245.9 82.6,245.4 83.0,245.6 83.5,245.8 83.9,245.3 84.3,244.9 84.7,245.1 85.2,245.1 85.6,245.0 86.0,245.5 86.4,245.6 86.9,246.0 87.3,246.9 87.7,247.1 88.2,247.2 88.6,247.5 89.0,248.9 89.4,249.5 89.9,250.1 90.3,251.3 90.7,251.4 91.1,251.7 91.6,252.8 92.0,254.5 92.4,254.7 92.8,255.0 93.3,256.4 93.7,257.5 94.1,258.7 94.5,259.4 95.0,259.9 95.4,260.7 95.8,262.1 96.2,263.3 96.7,263.1 97.1,264.3 97.5,266.0 97.9,267.6 98.4,268.6 98.8,269.2 99.2,270.5 99.6,272.0 100.1,273.0 100.5,273.9 100.9,275.2 101.3,275.9 101.8,276.9 102.2,278.1 102.6,279.0 103.1,280.4 103.5,281.4 103.9,282.5 104.3,284.2 104.8,285.0 105.2,285.7 105.6,286.7 106.0,288.1 106.5,289.5 106.9,290.5 107.3,291.6 107.7,292.5 108.2,293.4 108.6,294.2 109.0,295.3 109.4,296.8 109.9,297.5 110.3,298.7 110.7,300.0 111.1,300.1 111.6,300.9 112.0,302.2 112.4,303.4 112.8,305.2 113.3,305.8 113.7,306.1 114.1,307.1 114.5,308.1 115.0,309.1 115.4,310.2 115.8,310.7 116.3,311.6 116.7,312.5 117.1,313.0 117.5,314.3 118.0,315.2 118.4,315.5 118.8,316.0 119.2,316.8 119.7,317.7 120.1,318.8 120.5,319.3 120.9,319.8 121.4,320.9 121.8,321.6 122.2,322.3 122.6,323.1 123.1,323.7 123.5,324.3 123.9,324.9 124.3,325.7 124.8,325.8 125.2,326.3 125.6,327.2 126.0,327.5 126.5,327.9 126.9,328.2 127.3,328.8 127.7,329.6 128.2,330.2 128.6,330.6 129.0,331.3 129.4,332.0 129.9,332.2 130.3,332.5 130.7,332.9 131.2,333.3 131.6,333.7 132.0,334.4 132.4,334.8 132.9,335.0 133.3,335.4 133.7,335.9 134.1,336.3 134.6,337.1 135.0,337.6 135.4,337.6 135.8,337.6 136.3,337.8 136.7,338.1 137.1,338.8 137.5,339.2 138.0,339.4 138.4,339.8 138.8,340.1 139.2,340.7 139.7,340.8 140.1,340.9 140.5,341.1 140.9,341.6 141.4,341.8 141.8,341.7 142.2,341.9 142.6,342.2 143.1,342.7 143.5,343.5 143.9,343.5 144.4,343.5 144.8,343.9 145.2,343.8 145.6,343.9 146.1,344.2 146.5,344.4 146.9,344.9 147.3,344.9 147.8,344.9 148.2,345.3 148.6,345.4 149.0,345.5 149.5,345.9 149.9,346.1 150.3,346.2 150.7,346.4 151.2,346.2 151.6,346.5 152.0,347.2 152.4,347.2 152.9,347.2 153.3,347.0 153.7,347.0 154.1,347.2 154.6,347.3 155.0,347.6 155.4,347.7 155.8,347.7 156.3,347.7 156.7,347.8 157.1,348.1 157.5,348.2 158.0,348.2 158.4,348.6 158.8,348.6 159.3,348.4 159.7,348.5 160.1,348.9 160.5,349.3 161.0,349.3 161.4,349.1 161.8,349.0 162.2,349.3 162.7,349.4 163.1,349.5 163.5,349.8 163.9,349.7 164.4,349.7 164.8,349.9 165.2,350.0 165.6,349.9 166.1,349.9 166.5,350.0 166.9,349.9 167.3,350.0 167.8,350.1 168.2,350.1 168.6,350.0 169.0,350.0 169.5,350.4 169.9,350.8 170.3,350.7 170.7,350.7 171.2,350.6 171.6,350.5 172.0,350.7 172.4,350.6 172.9,350.5 173.3,350.7 173.7,350.8 174.2,350.7 174.6,350.8 175.0,350.9 175.4,351.0 175.9,351.1 176.3,351.0 176.7,351.1 177.1,351.1 177.6,351.1 178.0,351.1 178.4,351.2 178.8,351.4 179.3,351.4 179.7,351.2 180.1,351.1 180.5,351.3 181.0,351.3 181.4,351.4 181.8,351.3 182.2,351.5 182.7,351.6 183.1,351.4 183.5,351.5 183.9,351.8 184.4,351.6 184.8,351.6 185.2,351.6 185.6,351.7 186.1,351.7 186.5,351.6 186.9,351.6 187.4,351.6 187.8,351.7 188.2,351.8 188.6,351.8 189.1,351.7 189.5,351.4 189.9,351.5 190.3,351.7 190.8,351.7 191.2,352.0 191.6,352.0 192.0,351.9 192.5,351.8 192.9,351.9 193.3,351.9 193.7,351.8 194.2,351.8 194.6,352.0 195.0,352.1 195.4,352.1 195.9,352.1 196.3,352.0 196.7,352.0 197.1,352.1 197.6,352.2 198.0,352.1 198.4,352.0 198.8,351.9 199.3,352.2 199.7,352.2 200.1,352.0 200.5,352.2 201.0,352.2 201.4,352.2 201.8,352.1 202.3,352.2 202.7,352.2 203.1,352.2 203.5,352.2 204.0,352.0 204.4,351.9 204.8,352.1 205.2,352.2 205.7,352.2 206.1,352.1 206.5,352.0 206.9,352.1 207.4,352.1 207.8,352.2 208.2,352.2 208.6,352.2 209.1,352.2 209.5,352.2 209.9,352.1 210.3,351.9 210.8,351.9 211.2,352.2 211.6,352.2 212.0,352.2 212.5,352.2 212.9,352.2 213.3,352.2 213.7,352.2 214.2,352.2 214.6,352.2 215.0,352.2 215.5,352.2 215.9,352.2 216.3,352.2 216.7,352.2 217.2,352.2 217.6,352.2 218.0,352.2 218.4,352.2 218.9,352.2 219.3,352.2 219.7,352.2 220.1,352.2 220.6,352.2 221.0,352.2 221.4,352.2 221.8,352.2 222.3,352.2 222.7,352.2 223.1,352.2 223.5,352.2 224.0,352.2 224.4,352.2 224.8,352.2 225.2,352.2 225.7,352.2 226.1,352.2 226.5,352.2 226.9,352.2 227.4,352.2 227.8,352.2 228.2,352.2 228.6,352.2 229.1,352.2 229.5,352.2" fill="none" stroke="#f08a3a" stroke-width="1.7" stroke-linejoin="round"/>
<rect x="59.2" y="219.3" width="170.3" height="133.2" fill="none" stroke="#262626" stroke-width="1.3"/>
<path d="M55.6 352.50 H59.2" stroke="#262626" stroke-width="1"/>
<text x="48.7" y="356.70" font-size="12.2" text-anchor="end" fill="#000" stroke="#000" stroke-width="0.2" >0</text>
<path d="M55.6 319.20 H59.2" stroke="#262626" stroke-width="1"/>
<text x="48.7" y="323.40" font-size="12.2" text-anchor="end" fill="#000" stroke="#000" stroke-width="0.2" >4000</text>
<path d="M55.6 285.90 H59.2" stroke="#262626" stroke-width="1"/>
<text x="48.7" y="290.10" font-size="12.2" text-anchor="end" fill="#000" stroke="#000" stroke-width="0.2" >8000</text>
<path d="M55.6 252.60 H59.2" stroke="#262626" stroke-width="1"/>
<text x="48.7" y="256.80" font-size="12.2" text-anchor="end" fill="#000" stroke="#000" stroke-width="0.2" >12000</text>
<path d="M55.6 219.30 H59.2" stroke="#262626" stroke-width="1"/>
<text x="48.7" y="223.50" font-size="12.2" text-anchor="end" fill="#000" stroke="#000" stroke-width="0.2" >16000</text>
<path d="M59.20 352.5 V356.1" stroke="#262626" stroke-width="1"/>
<text x="59.20" y="371.6" font-size="12.2" text-anchor="middle" fill="#000" stroke="#000" stroke-width="0.2" >430</text>
<path d="M80.49 352.5 V356.1" stroke="#262626" stroke-width="1"/>
<text x="80.49" y="371.6" font-size="12.2" text-anchor="middle" fill="#000" stroke="#000" stroke-width="0.2" >480</text>
<path d="M101.78 352.5 V356.1" stroke="#262626" stroke-width="1"/>
<text x="101.78" y="371.6" font-size="12.2" text-anchor="middle" fill="#000" stroke="#000" stroke-width="0.2" >530</text>
<path d="M123.06 352.5 V356.1" stroke="#262626" stroke-width="1"/>
<text x="123.06" y="371.6" font-size="12.2" text-anchor="middle" fill="#000" stroke="#000" stroke-width="0.2" >580</text>
<path d="M144.35 352.5 V356.1" stroke="#262626" stroke-width="1"/>
<text x="144.35" y="371.6" font-size="12.2" text-anchor="middle" fill="#000" stroke="#000" stroke-width="0.2" >630</text>
<path d="M165.64 352.5 V356.1" stroke="#262626" stroke-width="1"/>
<text x="165.64" y="371.6" font-size="12.2" text-anchor="middle" fill="#000" stroke="#000" stroke-width="0.2" >680</text>
<path d="M186.93 352.5 V356.1" stroke="#262626" stroke-width="1"/>
<text x="186.93" y="371.6" font-size="12.2" text-anchor="middle" fill="#000" stroke="#000" stroke-width="0.2" >730</text>
<path d="M208.21 352.5 V356.1" stroke="#262626" stroke-width="1"/>
<text x="208.21" y="371.6" font-size="12.2" text-anchor="middle" fill="#000" stroke="#000" stroke-width="0.2" >780</text>
<path d="M229.50 352.5 V356.1" stroke="#262626" stroke-width="1"/>
<text x="229.50" y="371.6" font-size="12.2" text-anchor="middle" fill="#000" stroke="#000" stroke-width="0.2" >830</text>
<text x="134.4" y="384.3" font-size="12.4" text-anchor="middle" fill="#000" stroke="#000" stroke-width="0.2" >Wavelength (nm)</text>
<text x="10.3" y="280.6" font-size="12.3" text-anchor="middle" fill="#000" stroke="#000" stroke-width="0.2" transform="rotate(-90 10.3 280.6)">FL intensity (a.u.)</text>
<text x="169.4" y="215.3" font-size="12.45" text-anchor="start" fill="#000" stroke="#000" stroke-width="0.2" >(% w/v)</text>
<path d="M148.7 231.50 H163.8" stroke="#3f72b8" stroke-width="1.8"/>
<text x="170.10" y="234.90" font-size="12.0" text-anchor="start" fill="#000" stroke="#000" stroke-width="0.2" >0.75</text>
<path d="M194.10 226.70 L201.70 234.30 M194.10 234.30 L201.70 226.70" stroke="#1a1a1a" stroke-width="0.95" fill="none"/>
<text x="205.70" y="234.90" font-size="11.5" text-anchor="start" fill="#000" stroke="#000" stroke-width="0.2" >10</text>
<path d="M217.50 229.70 H219.30" stroke="#333" stroke-width="0.7"/>
<text x="219.30" y="231.50" font-size="8.8" text-anchor="start" fill="#000" stroke="#000" stroke-width="0.2" >5</text>
<path d="M148.7 249.78 H163.8" stroke="#b8403c" stroke-width="1.8"/>
<text x="170.10" y="253.18" font-size="12.0" text-anchor="start" fill="#000" stroke="#000" stroke-width="0.2" >1.5</text>
<path d="M188.10 244.98 L195.70 252.58 M188.10 252.58 L195.70 244.98" stroke="#1a1a1a" stroke-width="0.95" fill="none"/>
<text x="199.70" y="253.18" font-size="11.5" text-anchor="start" fill="#000" stroke="#000" stroke-width="0.2" >10</text>
<path d="M211.50 247.98 H213.30" stroke="#333" stroke-width="0.7"/>
<text x="213.30" y="249.78" font-size="8.8" text-anchor="start" fill="#000" stroke="#000" stroke-width="0.2" >5</text>
<path d="M148.7 268.06 H163.8" stroke="#8fb552" stroke-width="1.8"/>
<text x="170.10" y="271.46" font-size="12.0" text-anchor="start" fill="#000" stroke="#000" stroke-width="0.2" >3</text>
<path d="M179.10 263.26 L186.70 270.86 M179.10 270.86 L186.70 263.26" stroke="#1a1a1a" stroke-width="0.95" fill="none"/>
<text x="190.70" y="271.46" font-size="11.5" text-anchor="start" fill="#000" stroke="#000" stroke-width="0.2" >10</text>
<path d="M202.50 266.26 H204.30" stroke="#333" stroke-width="0.7"/>
<text x="204.30" y="268.06" font-size="8.8" text-anchor="start" fill="#000" stroke="#000" stroke-width="0.2" >5</text>
<path d="M148.7 286.34 H163.8" stroke="#6f55a0" stroke-width="1.8"/>
<text x="170.10" y="289.74" font-size="12.0" text-anchor="start" fill="#000" stroke="#000" stroke-width="0.2" >6</text>
<path d="M179.10 281.54 L186.70 289.14 M179.10 289.14 L186.70 281.54" stroke="#1a1a1a" stroke-width="0.95" fill="none"/>
<text x="190.70" y="289.74" font-size="11.5" text-anchor="start" fill="#000" stroke="#000" stroke-width="0.2" >10</text>
<path d="M202.50 284.54 H204.30" stroke="#333" stroke-width="0.7"/>
<text x="204.30" y="286.34" font-size="8.8" text-anchor="start" fill="#000" stroke="#000" stroke-width="0.2" >5</text>
<path d="M148.7 304.62 H163.8" stroke="#3ea6c2" stroke-width="1.8"/>
<text x="170.10" y="308.02" font-size="12.0" text-anchor="start" fill="#000" stroke="#000" stroke-width="0.2" >9</text>
<path d="M179.10 299.82 L186.70 307.42 M179.10 307.42 L186.70 299.82" stroke="#1a1a1a" stroke-width="0.95" fill="none"/>
<text x="190.70" y="308.02" font-size="11.5" text-anchor="start" fill="#000" stroke="#000" stroke-width="0.2" >10</text>
<path d="M202.50 302.82 H204.30" stroke="#333" stroke-width="0.7"/>
<text x="204.30" y="304.62" font-size="8.8" text-anchor="start" fill="#000" stroke="#000" stroke-width="0.2" >5</text>
<path d="M148.7 322.90 H163.8" stroke="#f08a3a" stroke-width="1.8"/>
<text x="170.10" y="326.30" font-size="12.0" text-anchor="start" fill="#000" stroke="#000" stroke-width="0.2" >12</text>
<path d="M185.10 318.10 L192.70 325.70 M185.10 325.70 L192.70 318.10" stroke="#1a1a1a" stroke-width="0.95" fill="none"/>
<text x="196.70" y="326.30" font-size="11.5" text-anchor="start" fill="#000" stroke="#000" stroke-width="0.2" >10</text>
<path d="M208.50 321.10 H210.30" stroke="#333" stroke-width="0.7"/>
<text x="210.30" y="322.90" font-size="8.8" text-anchor="start" fill="#000" stroke="#000" stroke-width="0.2" >5</text>
<text x="233.2" y="213.8" font-size="16.5" font-weight="bold" fill="#000">e</text>
<path d="M286.0 351.0 L287.0 348.6 L288.0 346.2 L289.0 343.8 L290.0 341.5 L291.0 339.2 L292.0 336.9 L293.0 334.7 L294.0 332.5 L295.0 330.3 L296.0 328.2 L297.0 326.1 L298.0 324.0 L299.0 321.9 L300.0 319.9 L301.0 317.9 L302.0 316.0 L303.0 314.0 L304.0 312.1 L305.0 310.2 L306.0 308.4 L307.0 306.6 L308.0 304.8 L309.0 303.0 L310.0 301.3 L311.0 299.6 L312.0 297.9 L313.0 296.3 L314.0 294.6 L315.0 293.0 L316.1 291.5 L317.1 289.9 L318.1 288.4 L319.1 286.9 L320.1 285.5 L321.1 284.0 L322.1 282.6 L323.1 281.3 L324.1 279.9 L325.1 278.6 L326.1 277.3 L327.1 276.0 L328.1 274.8 L329.1 273.5 L330.1 272.3 L331.1 271.2 L332.1 270.0 L333.1 268.9 L334.1 267.8 L335.1 266.7 L336.1 265.7 L337.1 264.6 L338.1 263.6 L339.1 262.7 L340.1 261.7 L341.1 260.8 L342.1 259.9 L343.1 259.0 L344.1 258.2 L345.1 257.3 L346.1 256.5 L347.1 255.7 L348.1 255.0 L349.1 254.2 L350.1 253.5 L351.1 252.8 L352.1 252.1 L353.1 251.5 L354.1 250.8 L355.1 250.2 L356.1 249.7 L357.1 249.1 L358.1 248.5 L359.1 248.0 L360.1 247.5 L361.1 247.0 L362.1 246.6 L363.1 246.1 L364.1 245.7 L365.1 245.3 L366.1 245.0 L367.1 244.6 L368.1 244.3 L369.1 243.9 L370.1 243.7 L371.1 243.4 L372.1 243.1 L373.1 242.9 L374.1 242.7 L375.1 242.5 L376.2 242.3 L377.2 242.1 L378.2 242.0 L379.2 241.8 L380.2 241.7 L381.2 241.7 L382.2 241.6 L383.2 241.5 L384.2 241.5 L385.2 241.5 L386.2 241.5 L387.2 241.5 L388.2 241.5 L389.2 241.6 L390.2 241.7 L391.2 241.7 L392.2 241.8 L393.2 242.0 L394.2 242.1 L395.2 242.3 L396.2 242.4 L397.2 242.6 L398.2 242.8 L399.2 243.0 L400.2 243.2 L401.2 243.5 L402.2 243.8 L403.2 244.0 L404.2 244.3 L405.2 244.6" fill="none" stroke="#1a1a1a" stroke-width="1.0" stroke-dasharray="2.2 1.8"/>
<path d="M284 352 L328.5 262" stroke="#f0303a" stroke-width="0.9"/>
<path d="M286.00 348.30 L288.50 351.00 L286.00 353.70 L283.50 351.00 Z" fill="#4a7ec0" stroke="#4a7ec0" stroke-width="1.1" stroke-linejoin="round"/>
<path d="M293.45 328.65 L295.95 331.35 L293.45 334.05 L290.95 331.35 Z" fill="#4a7ec0" stroke="#4a7ec0" stroke-width="1.1" stroke-linejoin="round"/>
<path d="M300.90 308.18 L303.40 310.88 L300.90 313.58 L298.40 310.88 Z" fill="#4a7ec0" stroke="#4a7ec0" stroke-width="1.1" stroke-linejoin="round"/>
<path d="M315.8 284.763125 V289.675625 M313.8 284.763125 H317.8 M313.8 289.675625 H317.8" stroke="#151515" stroke-width="1.1" fill="none"/>
<path d="M315.80 284.52 L318.30 287.22 L315.80 289.92 L313.30 287.22 Z" fill="#4a7ec0" stroke="#4a7ec0" stroke-width="1.1" stroke-linejoin="round"/>
<path d="M345.6 262.575 V270.7625 M343.6 262.575 H347.6 M343.6 270.7625 H347.6" stroke="#151515" stroke-width="1.1" fill="none"/>
<path d="M345.60 263.97 L348.10 266.67 L345.60 269.37 L343.10 266.67 Z" fill="#4a7ec0" stroke="#4a7ec0" stroke-width="1.1" stroke-linejoin="round"/>
<path d="M375.4 231.05312499999997 V240.059375 M373.4 231.05312499999997 H377.4 M373.4 240.059375 H377.4" stroke="#151515" stroke-width="1.1" fill="none"/>
<path d="M375.40 232.86 L377.90 235.56 L375.40 238.26 L372.90 235.56 Z" fill="#4a7ec0" stroke="#4a7ec0" stroke-width="1.1" stroke-linejoin="round"/>
<path d="M405.2 241.94250000000002 V252.095 M403.2 241.94250000000002 H407.2 M403.2 252.095 H407.2" stroke="#151515" stroke-width="1.1" fill="none"/>
<path d="M405.20 244.32 L407.70 247.02 L405.20 249.72 L402.70 247.02 Z" fill="#4a7ec0" stroke="#4a7ec0" stroke-width="1.1" stroke-linejoin="round"/>
<rect x="286" y="220" width="149" height="131" fill="none" stroke="#262626" stroke-width="1.3"/>
<path d="M282.4 351.00 H286" stroke="#262626" stroke-width="1"/>
<text x="275.4" y="355.20" font-size="12.3" text-anchor="end" fill="#000" stroke="#000" stroke-width="0.2" >0</text>
<path d="M282.4 318.25 H286" stroke="#262626" stroke-width="1"/>
<text x="275.4" y="322.45" font-size="12.3" text-anchor="end" fill="#000" stroke="#000" stroke-width="0.2" >4000</text>
<path d="M282.4 285.50 H286" stroke="#262626" stroke-width="1"/>
<text x="275.4" y="289.70" font-size="12.3" text-anchor="end" fill="#000" stroke="#000" stroke-width="0.2" >8000</text>
<path d="M282.4 252.75 H286" stroke="#262626" stroke-width="1"/>
<text x="275.4" y="256.95" font-size="12.3" text-anchor="end" fill="#000" stroke="#000" stroke-width="0.2" >12000</text>
<path d="M282.4 220.00 H286" stroke="#262626" stroke-width="1"/>
<text x="275.4" y="224.20" font-size="12.3" text-anchor="end" fill="#000" stroke="#000" stroke-width="0.2" >16000</text>
<path d="M286.00 351 V354.6" stroke="#262626" stroke-width="1"/>
<text x="286.00" y="370.3" font-size="12.3" text-anchor="middle" fill="#000" stroke="#000" stroke-width="0.2" >0</text>
<path d="M315.80 351 V354.6" stroke="#262626" stroke-width="1"/>
<text x="315.80" y="370.3" font-size="12.3" text-anchor="middle" fill="#000" stroke="#000" stroke-width="0.2" >3</text>
<path d="M345.60 351 V354.6" stroke="#262626" stroke-width="1"/>
<text x="345.60" y="370.3" font-size="12.3" text-anchor="middle" fill="#000" stroke="#000" stroke-width="0.2" >6</text>
<path d="M375.40 351 V354.6" stroke="#262626" stroke-width="1"/>
<text x="375.40" y="370.3" font-size="12.3" text-anchor="middle" fill="#000" stroke="#000" stroke-width="0.2" >9</text>
<path d="M405.20 351 V354.6" stroke="#262626" stroke-width="1"/>
<text x="405.20" y="370.3" font-size="12.3" text-anchor="middle" fill="#000" stroke="#000" stroke-width="0.2" >12</text>
<path d="M435.00 351 V354.6" stroke="#262626" stroke-width="1"/>
<text x="435.00" y="370.3" font-size="12.3" text-anchor="middle" fill="#000" stroke="#000" stroke-width="0.2" >15</text>
<text x="361" y="384.9" font-size="12.5" text-anchor="middle" fill="#000" stroke="#000" stroke-width="0.2" >CDs concentration (% w/v)</text>
<text x="242.3" y="285.7" font-size="12.25" text-anchor="middle" fill="#000" stroke="#000" stroke-width="0.2" transform="rotate(-90 242.3 285.7)">FL Intensity (a.u.)</text>
<text x="305.1" y="329.8" font-size="12.5" text-anchor="start" fill="#ee2a30" stroke="#ee2a30" stroke-width="0.3" >Linear range</text>
<path d="M322.6 318.2 L307 307.3" stroke="#ee2a30" stroke-width="0.9"/>
<path d="M313.2 307.6 L306.4 306.9 L309.2 313" stroke="#ee2a30" stroke-width="0.9" fill="none"/>
<path d="M397.40 335.40 L405.00 343.00 M397.40 343.00 L405.00 335.40" stroke="#1a1a1a" stroke-width="0.95" fill="none"/>
<text x="409.00" y="343.60" font-size="11.5" text-anchor="start" fill="#000" stroke="#000" stroke-width="0.2" >10</text>
<path d="M420.80 338.40 H422.60" stroke="#333" stroke-width="0.7"/>
<text x="422.60" y="340.20" font-size="8.8" text-anchor="start" fill="#000" stroke="#000" stroke-width="0.2" >5</text>
<text x="448.2" y="213.4" font-size="16.5" font-weight="bold" fill="#000">f</text>
<polyline points="503.6,344.1 504.0,342.6 504.4,341.3 504.8,339.9 505.2,338.3 505.6,336.6 506.0,335.3 506.4,334.1 506.8,332.6 507.2,331.0 507.6,329.8 508.0,329.0 508.4,327.4 508.8,325.7 509.2,324.5 509.6,322.6 510.0,321.2 510.4,320.2 510.8,319.2 511.2,318.0 511.6,316.3 512.0,315.0 512.4,313.9 512.9,312.6 513.3,311.3 513.7,310.0 514.1,308.7 514.5,308.0 514.9,307.3 515.3,306.1 515.7,304.6 516.1,303.6 516.5,302.6 516.9,301.6 517.3,300.6 517.7,299.1 518.1,297.8 518.5,296.8 518.9,295.8 519.3,294.8 519.7,293.5 520.1,292.0 520.5,291.0 520.9,290.1 521.3,289.3 521.7,289.0 522.1,287.6 522.5,286.9 522.9,286.7 523.3,285.7 523.7,285.1 524.1,284.8 524.5,283.3 524.9,282.3 525.3,282.0 525.7,281.1 526.1,280.6 526.5,279.6 526.9,278.6 527.3,278.0 527.7,277.4 528.1,277.1 528.5,276.4 528.9,275.7 529.3,275.8 529.7,275.8 530.1,275.4 530.6,274.8 531.0,274.5 531.4,274.9 531.8,275.2 532.2,275.3 532.6,275.8 533.0,276.1 533.4,276.1 533.8,276.4 534.2,276.8 534.6,277.0 535.0,277.5 535.4,278.1 535.8,278.3 536.2,278.6 536.6,279.1 537.0,279.9 537.4,280.5 537.8,280.8 538.2,281.4 538.6,281.9 539.0,282.5 539.4,283.1 539.8,282.9 540.2,283.9 540.6,285.1 541.0,285.1 541.4,285.7 541.8,286.5 542.2,287.7 542.6,288.8 543.0,288.6 543.4,289.3 543.8,290.4 544.2,291.5 544.6,292.1 545.0,291.8 545.4,292.8 545.8,294.0 546.2,294.7 546.6,295.0 547.0,296.0 547.4,297.7 547.8,297.9 548.2,298.6 548.7,299.7 549.1,300.7 549.5,301.8 549.9,301.9 550.3,302.9 550.7,303.8 551.1,304.2 551.5,305.0 551.9,305.7 552.3,305.9 552.7,307.2 553.1,308.3 553.5,308.5 553.9,309.3 554.3,309.9 554.7,310.2 555.1,311.2 555.5,312.0 555.9,312.9 556.3,313.9 556.7,314.5 557.1,315.0 557.5,315.9 557.9,316.2 558.3,316.8 558.7,317.5 559.1,318.3 559.5,319.2 559.9,319.6 560.3,319.9 560.7,320.5 561.1,321.2 561.5,321.9 561.9,322.6 562.3,322.9 562.7,323.7 563.1,324.5 563.5,324.8 563.9,325.4 564.3,326.0 564.7,326.2 565.1,326.8 565.5,327.2 565.9,327.6 566.4,328.2 566.8,329.0 567.2,329.8 567.6,329.9 568.0,330.4 568.4,330.9 568.8,331.1 569.2,331.7 569.6,332.1 570.0,332.8 570.4,333.2 570.8,333.0 571.2,333.5 571.6,334.0 572.0,334.1 572.4,334.1 572.8,334.7 573.2,335.6 573.6,336.0 574.0,336.3 574.4,336.8 574.8,337.0 575.2,337.2 575.6,337.4 576.0,337.5 576.4,338.0 576.8,338.4 577.2,338.4 577.6,338.6 578.0,339.1 578.4,339.2 578.8,339.5 579.2,339.9 579.6,339.8 580.0,340.0 580.4,340.7 580.8,340.9 581.2,340.9 581.6,341.4 582.0,341.7 582.4,341.7 582.8,341.7 583.2,342.1 583.6,342.5 584.0,342.6 584.5,342.5 584.9,342.9 585.3,343.4 585.7,343.5 586.1,343.5 586.5,343.6 586.9,343.9 587.3,344.1 587.7,344.1 588.1,344.2 588.5,344.5 588.9,344.5 589.3,344.7 589.7,345.0 590.1,345.0 590.5,345.2 590.9,345.2 591.3,345.3 591.7,345.6 592.1,345.8 592.5,346.0 592.9,346.0 593.3,345.8 593.7,346.0 594.1,346.4 594.5,346.7 594.9,346.9 595.3,346.6 595.7,346.7 596.1,346.8 596.5,346.7 596.9,347.2 597.3,347.5 597.7,347.3 598.1,347.4 598.5,347.7 598.9,347.7 599.3,347.7 599.7,347.7 600.1,347.4 600.5,347.8 600.9,348.2 601.3,348.2 601.7,348.1 602.2,348.1 602.6,348.1 603.0,348.3 603.4,348.5 603.8,348.5 604.2,348.5 604.6,348.6 605.0,348.7 605.4,348.7 605.8,348.6 606.2,348.6 606.6,349.0 607.0,349.0 607.4,348.8 607.8,349.0 608.2,349.1 608.6,349.1 609.0,348.9 609.4,349.0 609.8,349.1 610.2,349.0 610.6,349.2 611.0,349.3 611.4,349.3 611.8,349.7 612.2,349.8 612.6,349.6 613.0,349.4 613.4,349.3 613.8,349.3 614.2,349.4 614.6,349.4 615.0,349.4 615.4,349.6 615.8,349.6 616.2,349.5 616.6,349.5 617.0,349.7 617.4,349.8 617.8,349.9 618.2,350.0 618.6,349.9 619.0,349.9 619.4,349.8 619.9,350.0 620.3,350.3 620.7,350.1 621.1,349.9 621.5,350.0 621.9,349.9 622.3,349.8 622.7,350.1 623.1,350.2 623.5,350.1 623.9,350.2 624.3,350.2 624.7,350.1 625.1,350.2 625.5,350.1 625.9,350.2 626.3,350.2 626.7,350.4 627.1,350.4 627.5,350.4 627.9,350.4 628.3,350.3 628.7,350.3 629.1,350.1 629.5,350.3 629.9,350.5 630.3,350.4 630.7,350.4 631.1,350.5 631.5,350.4 631.9,350.5 632.3,350.6 632.7,350.4 633.1,350.5 633.5,350.7 633.9,350.5 634.3,350.4 634.7,350.3 635.1,350.3 635.5,350.5 635.9,350.6 636.3,350.5 636.7,350.4 637.1,350.7 637.5,350.7 638.0,350.5 638.4,350.7 638.8,350.7 639.2,350.7 639.6,350.6 640.0,350.5 640.4,350.4 640.8,350.5 641.2,350.6 641.6,350.7 642.0,350.7 642.4,350.7 642.8,350.7 643.2,350.6 643.6,350.5 644.0,350.5 644.4,350.6 644.8,350.6 645.2,350.7 645.6,350.6 646.0,350.6 646.4,350.7 646.8,350.7 647.2,350.7 647.6,350.7 648.0,350.7 648.4,350.7 648.8,350.7 649.2,350.7 649.6,350.7 650.0,350.7 650.4,350.7 650.8,350.7 651.2,350.7 651.6,350.7 652.0,350.7 652.4,350.7 652.8,350.7 653.2,350.7 653.6,350.7 654.0,350.7 654.4,350.7 654.8,350.7 655.2,350.7 655.7,350.7 656.1,350.7 656.5,350.7 656.9,350.7 657.3,350.7 657.7,350.7 658.1,350.7 658.5,350.7 658.9,350.7 659.3,350.7 659.7,350.7 660.1,350.7 660.5,350.7 660.9,350.7 661.3,350.7 661.7,350.7 662.1,350.7 662.5,350.7 662.9,350.7 663.3,350.7 663.7,350.7 664.1,350.7 664.5,350.7" fill="none" stroke="#3f72b8" stroke-width="1.7" stroke-linejoin="round"/>
<polyline points="503.6,341.3 504.0,339.6 504.4,337.4 504.8,334.8 505.2,332.8 505.6,331.2 506.0,329.5 506.4,327.9 506.8,326.0 507.2,323.9 507.6,322.1 508.0,320.3 508.4,318.4 508.8,316.7 509.2,315.4 509.6,313.9 510.0,311.5 510.4,309.4 510.8,307.7 511.2,305.9 511.6,304.1 512.0,302.7 512.4,301.3 512.9,299.8 513.3,297.8 513.7,296.0 514.1,294.3 514.5,293.0 514.9,291.6 515.3,290.3 515.7,288.7 516.1,287.2 516.5,285.9 516.9,284.2 517.3,282.2 517.7,280.5 518.1,279.7 518.5,278.9 518.9,277.4 519.3,275.9 519.7,274.4 520.1,272.8 520.5,271.5 520.9,270.5 521.3,269.5 521.7,268.0 522.1,266.6 522.5,265.6 522.9,264.6 523.3,263.1 523.7,262.4 524.1,261.6 524.5,260.1 524.9,259.4 525.3,258.6 525.7,257.2 526.1,256.2 526.5,255.0 526.9,253.8 527.3,252.6 527.7,252.3 528.1,251.7 528.5,250.8 528.9,250.4 529.3,249.3 529.7,248.9 530.1,248.8 530.6,248.5 531.0,248.6 531.4,248.3 531.8,248.1 532.2,247.9 532.6,248.0 533.0,248.4 533.4,248.3 533.8,248.5 534.2,248.9 534.6,249.3 535.0,249.8 535.4,250.1 535.8,250.2 536.2,251.1 536.6,251.4 537.0,251.6 537.4,253.1 537.8,253.1 538.2,253.2 538.6,254.8 539.0,255.3 539.4,256.6 539.8,257.1 540.2,257.6 540.6,259.6 541.0,260.3 541.4,260.7 541.8,261.4 542.2,262.2 542.6,263.2 543.0,264.1 543.4,264.8 543.8,266.3 544.2,267.1 544.6,267.7 545.0,269.0 545.4,269.8 545.8,271.1 546.2,272.5 546.6,272.9 547.0,273.8 547.4,275.1 547.8,276.0 548.2,277.2 548.7,278.3 549.1,279.5 549.5,280.6 549.9,281.6 550.3,282.8 550.7,283.8 551.1,284.8 551.5,285.5 551.9,286.4 552.3,287.7 552.7,289.2 553.1,290.5 553.5,291.6 553.9,292.2 554.3,292.9 554.7,293.9 555.1,294.9 555.5,296.1 555.9,297.3 556.3,297.7 556.7,298.3 557.1,299.8 557.5,300.9 557.9,301.5 558.3,302.6 558.7,303.4 559.1,304.0 559.5,304.9 559.9,305.4 560.3,306.5 560.7,307.5 561.1,308.1 561.5,309.0 561.9,310.1 562.3,311.0 562.7,311.7 563.1,312.1 563.5,312.9 563.9,313.7 564.3,314.5 564.7,315.6 565.1,316.2 565.5,317.2 565.9,318.0 566.4,318.5 566.8,319.1 567.2,319.6 567.6,320.4 568.0,321.3 568.4,321.5 568.8,322.1 569.2,323.0 569.6,323.6 570.0,324.2 570.4,324.4 570.8,324.6 571.2,325.7 571.6,326.5 572.0,326.5 572.4,327.0 572.8,327.7 573.2,327.9 573.6,328.1 574.0,328.6 574.4,329.5 574.8,330.2 575.2,330.6 575.6,331.1 576.0,331.7 576.4,331.7 576.8,332.0 577.2,332.6 577.6,332.9 578.0,333.3 578.4,333.9 578.8,334.3 579.2,334.5 579.6,334.8 580.0,335.7 580.4,335.9 580.8,335.7 581.2,336.3 581.6,336.9 582.0,337.3 582.4,337.3 582.8,337.7 583.2,338.1 583.6,338.1 584.0,338.4 584.5,338.8 584.9,339.3 585.3,339.6 585.7,339.8 586.1,340.1 586.5,340.4 586.9,340.6 587.3,340.6 587.7,340.6 588.1,341.1 588.5,341.3 588.9,341.4 589.3,341.8 589.7,342.0 590.1,342.1 590.5,342.6 590.9,342.5 591.3,342.6 591.7,343.4 592.1,343.5 592.5,343.4 592.9,343.7 593.3,344.1 593.7,344.0 594.1,343.9 594.5,344.2 594.9,344.4 595.3,344.6 595.7,344.8 596.1,344.9 596.5,344.9 596.9,345.0 597.3,345.1 597.7,345.3 598.1,345.5 598.5,345.5 598.9,345.8 599.3,346.1 599.7,345.8 600.1,346.1 600.5,346.3 600.9,346.3 601.3,346.5 601.7,346.6 602.2,346.7 602.6,346.7 603.0,346.8 603.4,347.2 603.8,347.0 604.2,346.9 604.6,347.3 605.0,347.2 605.4,347.1 605.8,347.6 606.2,347.7 606.6,347.8 607.0,348.0 607.4,347.9 607.8,347.9 608.2,348.0 608.6,348.2 609.0,348.2 609.4,348.2 609.8,348.2 610.2,348.4 610.6,348.5 611.0,348.4 611.4,348.3 611.8,348.5 612.2,348.5 612.6,348.5 613.0,348.5 613.4,348.6 613.8,348.8 614.2,349.0 614.6,349.0 615.0,349.1 615.4,349.2 615.8,349.3 616.2,349.5 616.6,349.2 617.0,349.1 617.4,348.9 617.8,348.9 618.2,349.3 618.6,349.5 619.0,349.4 619.4,349.4 619.9,349.6 620.3,349.5 620.7,349.3 621.1,349.3 621.5,349.5 621.9,349.6 622.3,349.7 622.7,349.6 623.1,349.7 623.5,349.9 623.9,349.9 624.3,349.9 624.7,350.0 625.1,349.9 625.5,349.7 625.9,349.6 626.3,349.9 626.7,350.1 627.1,350.0 627.5,349.9 627.9,350.0 628.3,350.0 628.7,350.0 629.1,350.0 629.5,350.2 629.9,350.3 630.3,350.1 630.7,350.0 631.1,350.0 631.5,350.2 631.9,350.3 632.3,350.3 632.7,350.2 633.1,350.2 633.5,350.1 633.9,350.3 634.3,350.4 634.7,350.5 635.1,350.5 635.5,350.3 635.9,350.4 636.3,350.4 636.7,350.2 637.1,350.2 637.5,350.3 638.0,350.4 638.4,350.4 638.8,350.5 639.2,350.6 639.6,350.6 640.0,350.5 640.4,350.5 640.8,350.5 641.2,350.6 641.6,350.6 642.0,350.6 642.4,350.5 642.8,350.4 643.2,350.4 643.6,350.5 644.0,350.7 644.4,350.7 644.8,350.7 645.2,350.7 645.6,350.7 646.0,350.7 646.4,350.7 646.8,350.6 647.2,350.6 647.6,350.6 648.0,350.6 648.4,350.7 648.8,350.7 649.2,350.7 649.6,350.7 650.0,350.6 650.4,350.7 650.8,350.6 651.2,350.7 651.6,350.7 652.0,350.7 652.4,350.7 652.8,350.7 653.2,350.7 653.6,350.6 654.0,350.6 654.4,350.7 654.8,350.7 655.2,350.7 655.7,350.7 656.1,350.7 656.5,350.7 656.9,350.7 657.3,350.7 657.7,350.7 658.1,350.7 658.5,350.7 658.9,350.7 659.3,350.7 659.7,350.7 660.1,350.7 660.5,350.7 660.9,350.7 661.3,350.7 661.7,350.7 662.1,350.7 662.5,350.7 662.9,350.7 663.3,350.7 663.7,350.7 664.1,350.7 664.5,350.7" fill="none" stroke="#b8403c" stroke-width="1.7" stroke-linejoin="round"/>
<polyline points="503.6,344.3 504.0,342.8 504.4,341.4 504.8,340.1 505.2,338.4 505.6,337.0 506.0,335.7 506.4,334.1 506.8,332.6 507.2,331.4 507.6,330.0 508.0,328.3 508.4,326.7 508.8,325.2 509.2,323.8 509.6,322.6 510.0,321.5 510.4,319.7 510.8,318.3 511.2,317.6 511.6,316.3 512.0,314.7 512.4,313.6 512.9,312.4 513.3,310.6 513.7,309.3 514.1,308.3 514.5,307.6 514.9,306.6 515.3,305.3 515.7,303.6 516.1,302.2 516.5,301.1 516.9,300.1 517.3,298.8 517.7,297.7 518.1,297.2 518.5,296.1 518.9,295.0 519.3,293.8 519.7,292.2 520.1,291.3 520.5,291.0 520.9,290.4 521.3,289.0 521.7,288.1 522.1,287.2 522.5,286.4 522.9,285.7 523.3,284.3 523.7,283.6 524.1,282.6 524.5,281.4 524.9,280.4 525.3,279.9 525.7,279.6 526.1,278.8 526.5,278.0 526.9,277.7 527.3,277.0 527.7,275.8 528.1,275.7 528.5,275.7 528.9,275.0 529.3,273.6 529.7,272.9 530.1,273.2 530.6,273.0 531.0,273.0 531.4,272.5 531.8,272.2 532.2,272.5 532.6,272.8 533.0,273.0 533.4,273.1 533.8,273.2 534.2,272.7 534.6,272.9 535.0,273.4 535.4,273.7 535.8,274.6 536.2,275.6 536.6,275.8 537.0,275.6 537.4,275.9 537.8,276.5 538.2,277.5 538.6,278.3 539.0,278.6 539.4,279.0 539.8,278.9 540.2,279.4 540.6,280.3 541.0,281.2 541.4,282.2 541.8,282.6 542.2,283.2 542.6,284.5 543.0,285.1 543.4,285.2 543.8,286.1 544.2,286.9 544.6,287.6 545.0,288.7 545.4,290.0 545.8,290.2 546.2,290.5 546.6,291.8 547.0,292.5 547.4,293.3 547.8,294.0 548.2,295.1 548.7,295.9 549.1,296.4 549.5,297.3 549.9,298.2 550.3,298.9 550.7,299.9 551.1,300.8 551.5,301.4 551.9,302.1 552.3,302.6 552.7,303.2 553.1,304.0 553.5,305.0 553.9,305.9 554.3,306.3 554.7,307.3 555.1,308.4 555.5,308.7 555.9,309.7 556.3,310.8 556.7,311.2 557.1,312.1 557.5,312.8 557.9,313.2 558.3,314.3 558.7,314.9 559.1,315.1 559.5,316.2 559.9,316.6 560.3,317.1 560.7,318.0 561.1,319.2 561.5,319.5 561.9,319.7 562.3,320.6 562.7,321.2 563.1,321.4 563.5,322.1 563.9,322.9 564.3,323.5 564.7,324.2 565.1,324.9 565.5,325.3 565.9,325.7 566.4,325.9 566.8,326.4 567.2,327.1 567.6,327.6 568.0,328.0 568.4,328.4 568.8,329.2 569.2,330.1 569.6,330.3 570.0,330.4 570.4,330.9 570.8,331.4 571.2,332.0 571.6,332.2 572.0,332.5 572.4,332.9 572.8,333.1 573.2,333.6 573.6,334.0 574.0,334.4 574.4,334.9 574.8,335.3 575.2,335.7 575.6,336.0 576.0,336.2 576.4,336.4 576.8,336.9 577.2,337.1 577.6,337.5 578.0,337.9 578.4,337.9 578.8,338.1 579.2,338.4 579.6,338.8 580.0,339.0 580.4,339.0 580.8,339.3 581.2,339.9 581.6,340.2 582.0,340.3 582.4,340.6 582.8,340.6 583.2,340.8 583.6,341.4 584.0,341.6 584.5,341.9 584.9,342.1 585.3,342.2 585.7,342.4 586.1,342.6 586.5,343.1 586.9,343.3 587.3,343.2 587.7,343.3 588.1,343.3 588.5,343.8 588.9,343.9 589.3,343.8 589.7,344.1 590.1,344.3 590.5,344.7 590.9,344.6 591.3,344.5 591.7,345.1 592.1,345.0 592.5,345.0 592.9,345.3 593.3,345.7 593.7,345.7 594.1,345.4 594.5,345.8 594.9,346.3 595.3,346.2 595.7,345.9 596.1,346.2 596.5,346.6 596.9,346.6 597.3,346.8 597.7,346.7 598.1,346.7 598.5,347.0 598.9,347.4 599.3,347.0 599.7,346.8 600.1,347.4 600.5,347.5 600.9,347.3 601.3,347.4 601.7,347.6 602.2,347.7 602.6,347.7 603.0,347.8 603.4,347.8 603.8,348.0 604.2,348.0 604.6,348.0 605.0,348.1 605.4,348.4 605.8,348.5 606.2,348.4 606.6,348.5 607.0,348.6 607.4,348.7 607.8,348.8 608.2,348.9 608.6,349.0 609.0,348.9 609.4,348.8 609.8,348.9 610.2,349.1 610.6,349.0 611.0,348.9 611.4,348.7 611.8,349.0 612.2,349.3 612.6,349.3 613.0,349.2 613.4,349.2 613.8,349.4 614.2,349.3 614.6,349.5 615.0,349.4 615.4,349.3 615.8,349.2 616.2,349.2 616.6,349.3 617.0,349.5 617.4,349.7 617.8,349.7 618.2,349.8 618.6,349.7 619.0,349.7 619.4,349.8 619.9,349.8 620.3,349.9 620.7,349.8 621.1,349.8 621.5,349.9 621.9,349.9 622.3,350.0 622.7,350.2 623.1,350.1 623.5,350.0 623.9,349.8 624.3,349.8 624.7,350.0 625.1,349.9 625.5,350.0 625.9,350.2 626.3,350.1 626.7,350.1 627.1,350.1 627.5,350.2 627.9,350.2 628.3,350.1 628.7,350.4 629.1,350.5 629.5,350.3 629.9,350.3 630.3,350.2 630.7,350.2 631.1,350.4 631.5,350.3 631.9,350.3 632.3,350.5 632.7,350.6 633.1,350.4 633.5,350.2 633.9,350.2 634.3,350.4 634.7,350.6 635.1,350.6 635.5,350.5 635.9,350.3 636.3,350.4 636.7,350.5 637.1,350.5 637.5,350.5 638.0,350.6 638.4,350.6 638.8,350.5 639.2,350.3 639.6,350.4 640.0,350.6 640.4,350.6 640.8,350.6 641.2,350.5 641.6,350.6 642.0,350.7 642.4,350.7 642.8,350.6 643.2,350.5 643.6,350.6 644.0,350.6 644.4,350.5 644.8,350.6 645.2,350.7 645.6,350.7 646.0,350.7 646.4,350.7 646.8,350.7 647.2,350.6 647.6,350.6 648.0,350.7 648.4,350.7 648.8,350.7 649.2,350.7 649.6,350.7 650.0,350.7 650.4,350.7 650.8,350.7 651.2,350.7 651.6,350.7 652.0,350.7 652.4,350.7 652.8,350.7 653.2,350.7 653.6,350.7 654.0,350.7 654.4,350.6 654.8,350.7 655.2,350.7 655.7,350.7 656.1,350.7 656.5,350.7 656.9,350.7 657.3,350.7 657.7,350.7 658.1,350.7 658.5,350.7 658.9,350.7 659.3,350.7 659.7,350.7 660.1,350.7 660.5,350.7 660.9,350.7 661.3,350.7 661.7,350.7 662.1,350.7 662.5,350.7 662.9,350.7 663.3,350.7 663.7,350.7 664.1,350.7 664.5,350.7" fill="none" stroke="#8fb552" stroke-width="1.7" stroke-linejoin="round"/>
<polyline points="503.6,344.0 504.0,342.9 504.4,341.9 504.8,340.6 505.2,339.4 505.6,338.3 506.0,337.4 506.4,336.0 506.8,334.7 507.2,333.8 507.6,332.6 508.0,332.0 508.4,330.9 508.8,329.7 509.2,328.6 509.6,327.9 510.0,327.3 510.4,326.1 510.8,324.6 511.2,323.1 511.6,322.6 512.0,321.8 512.4,320.6 512.9,319.7 513.3,318.6 513.7,317.7 514.1,317.0 514.5,316.0 514.9,315.0 515.3,314.1 515.7,313.2 516.1,312.4 516.5,311.9 516.9,311.0 517.3,310.0 517.7,309.1 518.1,307.5 518.5,306.7 518.9,306.5 519.3,305.5 519.7,304.7 520.1,303.6 520.5,302.8 520.9,302.5 521.3,302.3 521.7,301.2 522.1,299.9 522.5,299.7 522.9,299.1 523.3,298.6 523.7,298.1 524.1,296.7 524.5,296.3 524.9,296.4 525.3,295.2 525.7,294.6 526.1,294.3 526.5,293.8 526.9,293.2 527.3,291.9 527.7,291.7 528.1,291.9 528.5,291.9 528.9,291.7 529.3,291.0 529.7,290.1 530.1,289.5 530.6,289.2 531.0,288.9 531.4,288.8 531.8,288.3 532.2,288.5 532.6,289.3 533.0,290.0 533.4,290.4 533.8,289.7 534.2,289.8 534.6,289.8 535.0,289.7 535.4,289.8 535.8,290.7 536.2,291.6 536.6,291.3 537.0,291.4 537.4,292.4 537.8,292.9 538.2,293.2 538.6,293.2 539.0,293.4 539.4,294.1 539.8,295.0 540.2,295.2 540.6,295.2 541.0,296.2 541.4,296.8 541.8,297.3 542.2,298.2 542.6,298.7 543.0,299.6 543.4,300.1 543.8,300.5 544.2,300.7 544.6,300.9 545.0,301.9 545.4,303.0 545.8,303.8 546.2,304.6 546.6,305.0 547.0,305.1 547.4,305.9 547.8,306.5 548.2,306.8 548.7,307.2 549.1,308.1 549.5,308.7 549.9,309.2 550.3,309.8 550.7,310.5 551.1,311.3 551.5,311.8 551.9,312.3 552.3,312.6 552.7,313.9 553.1,314.4 553.5,314.8 553.9,315.4 554.3,315.5 554.7,316.3 555.1,317.5 555.5,317.8 555.9,318.4 556.3,319.0 556.7,319.2 557.1,320.0 557.5,320.6 557.9,321.6 558.3,322.0 558.7,322.2 559.1,323.3 559.5,323.2 559.9,323.2 560.3,324.2 560.7,325.0 561.1,325.5 561.5,326.3 561.9,326.6 562.3,326.7 562.7,326.7 563.1,327.4 563.5,328.2 563.9,328.7 564.3,329.3 564.7,329.5 565.1,330.2 565.5,331.1 565.9,331.3 566.4,331.3 566.8,331.5 567.2,332.0 567.6,332.4 568.0,332.7 568.4,333.2 568.8,333.8 569.2,334.2 569.6,334.4 570.0,334.9 570.4,335.4 570.8,335.0 571.2,335.2 571.6,336.0 572.0,336.6 572.4,336.9 572.8,337.0 573.2,337.2 573.6,337.7 574.0,338.0 574.4,338.1 574.8,338.3 575.2,338.8 575.6,339.1 576.0,339.0 576.4,339.4 576.8,339.8 577.2,340.0 577.6,340.4 578.0,340.8 578.4,341.1 578.8,341.1 579.2,341.1 579.6,341.2 580.0,341.7 580.4,342.2 580.8,342.4 581.2,342.4 581.6,342.1 582.0,342.6 582.4,343.1 582.8,343.1 583.2,343.3 583.6,343.5 584.0,343.7 584.5,343.6 584.9,343.8 585.3,344.2 585.7,344.1 586.1,344.6 586.5,344.9 586.9,344.8 587.3,344.5 587.7,344.7 588.1,345.2 588.5,345.3 588.9,345.2 589.3,345.2 589.7,345.4 590.1,345.6 590.5,346.0 590.9,346.2 591.3,346.1 591.7,346.2 592.1,346.4 592.5,346.4 592.9,346.5 593.3,346.9 593.7,347.0 594.1,347.0 594.5,347.0 594.9,347.0 595.3,346.9 595.7,347.0 596.1,347.4 596.5,347.8 596.9,347.9 597.3,347.8 597.7,347.7 598.1,347.6 598.5,347.7 598.9,347.9 599.3,347.9 599.7,348.0 600.1,348.1 600.5,347.8 600.9,347.9 601.3,348.0 601.7,348.0 602.2,348.4 602.6,348.6 603.0,348.5 603.4,348.7 603.8,348.9 604.2,348.8 604.6,348.8 605.0,349.0 605.4,348.9 605.8,348.9 606.2,348.8 606.6,348.7 607.0,348.9 607.4,349.1 607.8,349.1 608.2,349.1 608.6,349.3 609.0,349.5 609.4,349.5 609.8,349.5 610.2,349.4 610.6,349.3 611.0,349.4 611.4,349.5 611.8,349.4 612.2,349.7 612.6,349.7 613.0,349.5 613.4,349.6 613.8,349.9 614.2,349.9 614.6,349.9 615.0,349.8 615.4,349.7 615.8,349.7 616.2,349.8 616.6,350.0 617.0,350.0 617.4,350.0 617.8,350.0 618.2,349.8 618.6,350.0 619.0,350.1 619.4,350.1 619.9,349.9 620.3,350.0 620.7,350.0 621.1,350.3 621.5,350.4 621.9,350.2 622.3,350.1 622.7,350.0 623.1,350.0 623.5,350.2 623.9,350.3 624.3,350.3 624.7,350.3 625.1,350.2 625.5,350.4 625.9,350.4 626.3,350.1 626.7,350.2 627.1,350.3 627.5,350.2 627.9,350.4 628.3,350.4 628.7,350.4 629.1,350.4 629.5,350.5 629.9,350.7 630.3,350.5 630.7,350.4 631.1,350.4 631.5,350.4 631.9,350.6 632.3,350.5 632.7,350.5 633.1,350.5 633.5,350.4 633.9,350.3 634.3,350.6 634.7,350.7 635.1,350.6 635.5,350.6 635.9,350.6 636.3,350.5 636.7,350.4 637.1,350.7 637.5,350.7 638.0,350.6 638.4,350.7 638.8,350.7 639.2,350.6 639.6,350.7 640.0,350.7 640.4,350.7 640.8,350.7 641.2,350.7 641.6,350.7 642.0,350.7 642.4,350.7 642.8,350.7 643.2,350.5 643.6,350.6 644.0,350.7 644.4,350.7 644.8,350.5 645.2,350.5 645.6,350.7 646.0,350.7 646.4,350.6 646.8,350.7 647.2,350.7 647.6,350.7 648.0,350.7 648.4,350.7 648.8,350.7 649.2,350.7 649.6,350.7 650.0,350.7 650.4,350.6 650.8,350.7 651.2,350.7 651.6,350.7 652.0,350.7 652.4,350.7 652.8,350.7 653.2,350.7 653.6,350.7 654.0,350.7 654.4,350.7 654.8,350.7 655.2,350.7 655.7,350.7 656.1,350.7 656.5,350.7 656.9,350.7 657.3,350.7 657.7,350.7 658.1,350.7 658.5,350.7 658.9,350.7 659.3,350.7 659.7,350.7 660.1,350.7 660.5,350.7 660.9,350.7 661.3,350.7 661.7,350.7 662.1,350.7 662.5,350.7 662.9,350.7 663.3,350.7 663.7,350.7 664.1,350.7 664.5,350.7" fill="none" stroke="#6f55a0" stroke-width="1.7" stroke-linejoin="round"/>
<polyline points="503.6,344.2 504.0,343.3 504.4,342.4 504.8,341.4 505.2,340.3 505.6,339.4 506.0,338.6 506.4,337.7 506.8,336.9 507.2,336.2 507.6,335.0 508.0,333.8 508.4,333.2 508.8,332.8 509.2,332.1 509.6,331.3 510.0,330.7 510.4,329.8 510.8,328.7 511.2,327.6 511.6,326.6 512.0,325.9 512.4,325.4 512.9,324.8 513.3,324.0 513.7,323.2 514.1,322.6 514.5,321.9 514.9,321.1 515.3,320.4 515.7,319.5 516.1,318.5 516.5,318.0 516.9,317.7 517.3,316.8 517.7,316.0 518.1,315.9 518.5,315.2 518.9,313.9 519.3,313.5 519.7,312.7 520.1,312.0 520.5,312.2 520.9,311.8 521.3,310.9 521.7,310.3 522.1,309.6 522.5,309.2 522.9,308.6 523.3,307.7 523.7,307.2 524.1,307.1 524.5,306.7 524.9,306.2 525.3,305.1 525.7,304.8 526.1,305.5 526.5,305.2 526.9,304.1 527.3,303.1 527.7,302.9 528.1,302.6 528.5,302.4 528.9,302.2 529.3,302.1 529.7,302.4 530.1,301.4 530.6,301.0 531.0,301.4 531.4,300.9 531.8,301.0 532.2,301.4 532.6,302.0 533.0,301.8 533.4,301.9 533.8,303.1 534.2,303.1 534.6,302.9 535.0,303.0 535.4,302.8 535.8,303.2 536.2,303.9 536.6,304.2 537.0,305.1 537.4,305.5 537.8,305.2 538.2,305.8 538.6,305.7 539.0,305.4 539.4,306.0 539.8,306.6 540.2,307.3 540.6,307.8 541.0,308.5 541.4,309.4 541.8,309.6 542.2,309.6 542.6,310.0 543.0,310.8 543.4,310.8 543.8,311.2 544.2,312.1 544.6,312.6 545.0,313.3 545.4,314.0 545.8,313.9 546.2,314.2 546.6,314.7 547.0,315.3 547.4,315.8 547.8,316.4 548.2,317.2 548.7,317.7 549.1,318.1 549.5,318.0 549.9,319.0 550.3,319.8 550.7,320.2 551.1,320.8 551.5,321.2 551.9,322.0 552.3,322.4 552.7,322.8 553.1,322.8 553.5,323.2 553.9,324.0 554.3,324.2 554.7,324.7 555.1,325.3 555.5,326.1 555.9,326.1 556.3,326.2 556.7,326.9 557.1,327.6 557.5,328.1 557.9,328.4 558.3,328.8 558.7,329.3 559.1,330.0 559.5,330.2 559.9,330.4 560.3,330.6 560.7,331.0 561.1,331.9 561.5,332.1 561.9,332.5 562.3,332.6 562.7,332.4 563.1,332.9 563.5,333.5 563.9,334.1 564.3,334.5 564.7,334.8 565.1,335.3 565.5,335.6 565.9,335.5 566.4,335.7 566.8,336.6 567.2,336.8 567.6,336.6 568.0,337.6 568.4,338.0 568.8,337.9 569.2,338.1 569.6,338.7 570.0,339.1 570.4,339.1 570.8,339.3 571.2,339.7 571.6,340.0 572.0,340.5 572.4,340.5 572.8,340.2 573.2,340.6 573.6,341.3 574.0,341.6 574.4,341.6 574.8,342.1 575.2,342.1 575.6,342.0 576.0,342.3 576.4,342.4 576.8,342.7 577.2,343.1 577.6,343.1 578.0,343.0 578.4,343.1 578.8,343.4 579.2,343.7 579.6,343.9 580.0,344.0 580.4,344.0 580.8,344.5 581.2,344.6 581.6,344.7 582.0,345.0 582.4,345.0 582.8,344.8 583.2,345.1 583.6,345.5 584.0,345.6 584.5,345.5 584.9,345.2 585.3,345.3 585.7,345.6 586.1,346.1 586.5,346.4 586.9,346.4 587.3,346.4 587.7,346.7 588.1,346.7 588.5,346.8 588.9,346.9 589.3,346.7 589.7,346.7 590.1,347.2 590.5,347.3 590.9,347.2 591.3,347.3 591.7,347.3 592.1,347.6 592.5,347.7 592.9,347.6 593.3,347.3 593.7,347.4 594.1,347.6 594.5,347.6 594.9,348.0 595.3,348.3 595.7,348.1 596.1,348.2 596.5,348.5 596.9,348.4 597.3,348.5 597.7,348.4 598.1,348.3 598.5,348.3 598.9,348.4 599.3,348.7 599.7,348.7 600.1,348.6 600.5,348.7 600.9,348.9 601.3,349.0 601.7,349.1 602.2,349.1 602.6,348.9 603.0,349.0 603.4,349.2 603.8,349.2 604.2,349.2 604.6,349.6 605.0,349.5 605.4,349.4 605.8,349.6 606.2,349.6 606.6,349.4 607.0,349.4 607.4,349.5 607.8,349.7 608.2,349.7 608.6,349.7 609.0,349.8 609.4,350.0 609.8,349.7 610.2,349.7 610.6,349.8 611.0,349.9 611.4,349.9 611.8,349.8 612.2,349.8 612.6,349.7 613.0,349.8 613.4,349.9 613.8,350.0 614.2,350.0 614.6,349.9 615.0,349.9 615.4,349.9 615.8,350.1 616.2,350.2 616.6,350.2 617.0,350.1 617.4,350.1 617.8,350.1 618.2,350.0 618.6,350.2 619.0,350.3 619.4,350.4 619.9,350.3 620.3,350.4 620.7,350.4 621.1,350.4 621.5,350.5 621.9,350.4 622.3,350.4 622.7,350.4 623.1,350.4 623.5,350.4 623.9,350.6 624.3,350.6 624.7,350.5 625.1,350.3 625.5,350.4 625.9,350.5 626.3,350.6 626.7,350.6 627.1,350.5 627.5,350.6 627.9,350.6 628.3,350.5 628.7,350.7 629.1,350.7 629.5,350.7 629.9,350.7 630.3,350.5 630.7,350.6 631.1,350.7 631.5,350.7 631.9,350.6 632.3,350.6 632.7,350.6 633.1,350.7 633.5,350.7 633.9,350.7 634.3,350.6 634.7,350.5 635.1,350.5 635.5,350.5 635.9,350.7 636.3,350.7 636.7,350.7 637.1,350.7 637.5,350.7 638.0,350.6 638.4,350.5 638.8,350.6 639.2,350.7 639.6,350.7 640.0,350.7 640.4,350.7 640.8,350.7 641.2,350.7 641.6,350.7 642.0,350.7 642.4,350.7 642.8,350.7 643.2,350.7 643.6,350.7 644.0,350.7 644.4,350.7 644.8,350.7 645.2,350.7 645.6,350.7 646.0,350.7 646.4,350.7 646.8,350.7 647.2,350.7 647.6,350.7 648.0,350.7 648.4,350.7 648.8,350.7 649.2,350.6 649.6,350.7 650.0,350.7 650.4,350.7 650.8,350.7 651.2,350.7 651.6,350.7 652.0,350.7 652.4,350.7 652.8,350.7 653.2,350.7 653.6,350.7 654.0,350.7 654.4,350.7 654.8,350.7 655.2,350.7 655.7,350.7 656.1,350.7 656.5,350.7 656.9,350.7 657.3,350.7 657.7,350.7 658.1,350.7 658.5,350.7 658.9,350.7 659.3,350.7 659.7,350.7 660.1,350.7 660.5,350.7 660.9,350.7 661.3,350.7 661.7,350.7 662.1,350.7 662.5,350.7 662.9,350.7 663.3,350.7 663.7,350.7 664.1,350.7 664.5,350.7" fill="none" stroke="#3ea6c2" stroke-width="1.7" stroke-linejoin="round"/>
<polyline points="503.6,344.2 504.0,343.5 504.4,342.8 504.8,341.8 505.2,341.0 505.6,340.1 506.0,339.0 506.4,338.6 506.8,338.0 507.2,336.9 507.6,336.0 508.0,335.6 508.4,335.3 508.8,334.7 509.2,333.9 509.6,332.6 510.0,331.7 510.4,331.4 510.8,330.8 511.2,330.1 511.6,329.3 512.0,328.9 512.4,328.6 512.9,327.6 513.3,326.3 513.7,326.2 514.1,325.6 514.5,324.8 514.9,324.7 515.3,323.6 515.7,322.6 516.1,322.1 516.5,321.6 516.9,321.1 517.3,320.9 517.7,320.3 518.1,319.3 518.5,318.9 518.9,318.2 519.3,317.3 519.7,317.4 520.1,316.7 520.5,315.5 520.9,315.2 521.3,314.6 521.7,313.5 522.1,313.6 522.5,313.4 522.9,312.5 523.3,312.2 523.7,311.6 524.1,311.0 524.5,310.8 524.9,311.3 525.3,311.1 525.7,310.2 526.1,309.3 526.5,308.7 526.9,308.4 527.3,308.3 527.7,308.2 528.1,307.7 528.5,307.4 528.9,307.0 529.3,306.3 529.7,306.4 530.1,306.3 530.6,305.6 531.0,305.7 531.4,305.8 531.8,306.0 532.2,306.5 532.6,306.5 533.0,306.4 533.4,306.4 533.8,306.7 534.2,306.3 534.6,306.3 535.0,306.8 535.4,306.5 535.8,307.0 536.2,307.4 536.6,307.8 537.0,308.5 537.4,307.9 537.8,307.9 538.2,309.4 538.6,309.9 539.0,310.1 539.4,310.2 539.8,309.8 540.2,309.8 540.6,310.8 541.0,311.7 541.4,311.7 541.8,311.7 542.2,312.4 542.6,312.4 543.0,312.7 543.4,314.0 543.8,315.0 544.2,315.0 544.6,315.4 545.0,315.7 545.4,315.5 545.8,315.5 546.2,316.4 546.6,317.3 547.0,318.1 547.4,318.7 547.8,318.6 548.2,318.6 548.7,319.3 549.1,320.1 549.5,320.2 549.9,320.2 550.3,320.9 550.7,322.1 551.1,322.2 551.5,322.5 551.9,323.2 552.3,323.8 552.7,324.2 553.1,324.8 553.5,325.2 553.9,325.1 554.3,325.4 554.7,325.5 555.1,325.8 555.5,327.0 555.9,327.7 556.3,327.7 556.7,328.1 557.1,328.3 557.5,328.5 557.9,329.5 558.3,330.1 558.7,330.2 559.1,330.6 559.5,331.6 559.9,331.7 560.3,331.8 560.7,331.9 561.1,331.8 561.5,332.6 561.9,333.3 562.3,333.6 562.7,333.8 563.1,334.0 563.5,334.6 563.9,335.4 564.3,335.5 564.7,335.2 565.1,335.8 565.5,336.5 565.9,336.7 566.4,336.9 566.8,337.5 567.2,337.8 567.6,337.7 568.0,337.6 568.4,337.7 568.8,338.2 569.2,338.6 569.6,339.0 570.0,339.1 570.4,339.6 570.8,339.8 571.2,339.7 571.6,340.1 572.0,340.2 572.4,340.5 572.8,341.1 573.2,341.1 573.6,341.6 574.0,341.8 574.4,341.8 574.8,341.8 575.2,341.7 575.6,342.0 576.0,342.4 576.4,342.6 576.8,342.9 577.2,342.8 577.6,342.7 578.0,343.0 578.4,343.5 578.8,343.9 579.2,343.7 579.6,343.8 580.0,344.2 580.4,344.4 580.8,344.5 581.2,344.4 581.6,344.7 582.0,345.2 582.4,345.2 582.8,345.5 583.2,345.5 583.6,345.4 584.0,345.7 584.5,345.9 584.9,345.9 585.3,345.9 585.7,346.0 586.1,346.2 586.5,346.5 586.9,346.5 587.3,346.8 587.7,346.7 588.1,346.5 588.5,347.0 588.9,347.1 589.3,346.7 589.7,347.1 590.1,347.4 590.5,347.2 590.9,347.3 591.3,347.4 591.7,347.2 592.1,347.4 592.5,347.6 592.9,347.6 593.3,347.7 593.7,347.7 594.1,347.9 594.5,348.1 594.9,348.2 595.3,348.2 595.7,348.0 596.1,348.0 596.5,348.2 596.9,348.6 597.3,348.8 597.7,348.6 598.1,348.6 598.5,348.6 598.9,348.7 599.3,348.8 599.7,348.9 600.1,349.0 600.5,349.0 600.9,349.0 601.3,348.9 601.7,348.9 602.2,349.2 602.6,349.7 603.0,349.7 603.4,349.3 603.8,349.2 604.2,349.3 604.6,349.3 605.0,349.1 605.4,349.4 605.8,349.4 606.2,349.5 606.6,349.8 607.0,349.6 607.4,349.5 607.8,349.4 608.2,349.4 608.6,349.6 609.0,349.8 609.4,349.8 609.8,349.8 610.2,349.8 610.6,349.8 611.0,349.7 611.4,349.7 611.8,350.1 612.2,350.2 612.6,350.0 613.0,349.9 613.4,350.1 613.8,350.3 614.2,350.1 614.6,349.9 615.0,350.1 615.4,350.3 615.8,350.2 616.2,350.1 616.6,350.2 617.0,350.4 617.4,350.5 617.8,350.2 618.2,350.2 618.6,350.3 619.0,350.4 619.4,350.2 619.9,350.2 620.3,350.2 620.7,350.1 621.1,350.2 621.5,350.1 621.9,350.2 622.3,350.2 622.7,350.4 623.1,350.5 623.5,350.5 623.9,350.3 624.3,350.4 624.7,350.4 625.1,350.1 625.5,350.4 625.9,350.6 626.3,350.7 626.7,350.6 627.1,350.4 627.5,350.4 627.9,350.6 628.3,350.5 628.7,350.4 629.1,350.4 629.5,350.4 629.9,350.6 630.3,350.7 630.7,350.6 631.1,350.4 631.5,350.5 631.9,350.6 632.3,350.6 632.7,350.5 633.1,350.5 633.5,350.4 633.9,350.6 634.3,350.7 634.7,350.7 635.1,350.5 635.5,350.7 635.9,350.7 636.3,350.6 636.7,350.7 637.1,350.7 637.5,350.7 638.0,350.7 638.4,350.7 638.8,350.7 639.2,350.7 639.6,350.6 640.0,350.6 640.4,350.7 640.8,350.7 641.2,350.7 641.6,350.7 642.0,350.7 642.4,350.7 642.8,350.7 643.2,350.7 643.6,350.7 644.0,350.7 644.4,350.7 644.8,350.7 645.2,350.7 645.6,350.7 646.0,350.7 646.4,350.7 646.8,350.7 647.2,350.7 647.6,350.7 648.0,350.7 648.4,350.7 648.8,350.7 649.2,350.7 649.6,350.7 650.0,350.7 650.4,350.7 650.8,350.7 651.2,350.7 651.6,350.7 652.0,350.7 652.4,350.7 652.8,350.7 653.2,350.7 653.6,350.7 654.0,350.7 654.4,350.7 654.8,350.7 655.2,350.7 655.7,350.7 656.1,350.7 656.5,350.7 656.9,350.7 657.3,350.7 657.7,350.7 658.1,350.7 658.5,350.7 658.9,350.7 659.3,350.7 659.7,350.7 660.1,350.7 660.5,350.7 660.9,350.7 661.3,350.7 661.7,350.7 662.1,350.7 662.5,350.7 662.9,350.7 663.3,350.7 663.7,350.7 664.1,350.7 664.5,350.7" fill="none" stroke="#f08a3a" stroke-width="1.7" stroke-linejoin="round"/>
<polyline points="503.6,349.7 504.0,349.5 504.4,349.3 504.8,349.0 505.2,348.8 505.6,348.6 506.0,348.3 506.4,348.1 506.8,347.8 507.2,347.7 507.6,347.3 508.0,346.9 508.4,346.9 508.8,346.8 509.2,346.6 509.6,346.4 510.0,346.0 510.4,346.0 510.8,345.8 511.2,345.4 511.6,345.1 512.0,344.8 512.4,344.8 512.9,344.7 513.3,344.4 513.7,344.1 514.1,343.9 514.5,343.6 514.9,343.3 515.3,343.2 515.7,343.0 516.1,342.8 516.5,342.6 516.9,342.3 517.3,342.3 517.7,342.3 518.1,342.0 518.5,341.8 518.9,341.5 519.3,341.4 519.7,341.3 520.1,341.2 520.5,340.9 520.9,340.5 521.3,340.3 521.7,339.7 522.1,339.3 522.5,339.5 522.9,339.6 523.3,339.3 523.7,339.2 524.1,339.2 524.5,338.9 524.9,338.7 525.3,338.8 525.7,338.5 526.1,338.0 526.5,337.9 526.9,337.9 527.3,337.5 527.7,337.4 528.1,337.2 528.5,337.1 528.9,337.1 529.3,337.0 529.7,336.8 530.1,336.4 530.6,336.2 531.0,336.3 531.4,336.1 531.8,336.2 532.2,336.1 532.6,335.6 533.0,335.7 533.4,335.8 533.8,335.7 534.2,335.6 534.6,335.7 535.0,335.8 535.4,335.9 535.8,335.8 536.2,335.8 536.6,336.0 537.0,336.0 537.4,335.6 537.8,335.4 538.2,335.8 538.6,335.9 539.0,336.1 539.4,336.3 539.8,336.4 540.2,336.4 540.6,336.4 541.0,336.7 541.4,336.7 541.8,336.6 542.2,337.0 542.6,337.1 543.0,336.7 543.4,336.8 543.8,337.1 544.2,337.2 544.6,337.4 545.0,337.6 545.4,337.5 545.8,337.7 546.2,337.9 546.6,337.9 547.0,338.0 547.4,338.1 547.8,338.2 548.2,338.2 548.7,338.4 549.1,338.4 549.5,338.4 549.9,338.8 550.3,339.0 550.7,339.0 551.1,339.1 551.5,339.3 551.9,339.4 552.3,339.5 552.7,339.5 553.1,339.8 553.5,339.9 553.9,340.0 554.3,340.0 554.7,339.9 555.1,340.4 555.5,340.6 555.9,340.5 556.3,340.7 556.7,340.8 557.1,340.9 557.5,340.9 557.9,341.0 558.3,341.2 558.7,341.5 559.1,341.7 559.5,341.7 559.9,341.9 560.3,342.1 560.7,341.8 561.1,341.7 561.5,342.2 561.9,342.6 562.3,342.5 562.7,342.5 563.1,342.6 563.5,342.9 563.9,343.1 564.3,343.3 564.7,343.4 565.1,343.1 565.5,343.3 565.9,343.6 566.4,343.6 566.8,343.9 567.2,344.0 567.6,344.0 568.0,344.2 568.4,344.1 568.8,344.2 569.2,344.3 569.6,344.5 570.0,344.7 570.4,344.7 570.8,344.8 571.2,344.9 571.6,344.9 572.0,345.1 572.4,345.2 572.8,345.2 573.2,345.3 573.6,345.3 574.0,345.5 574.4,345.5 574.8,345.5 575.2,345.6 575.6,345.8 576.0,345.9 576.4,345.9 576.8,346.2 577.2,346.3 577.6,346.1 578.0,346.1 578.4,346.4 578.8,346.5 579.2,346.6 579.6,346.7 580.0,346.7 580.4,346.7 580.8,346.7 581.2,346.8 581.6,346.9 582.0,347.0 582.4,347.1 582.8,347.1 583.2,347.1 583.6,347.3 584.0,347.2 584.5,347.2 584.9,347.3 585.3,347.4 585.7,347.5 586.1,347.5 586.5,347.5 586.9,347.7 587.3,347.8 587.7,347.7 588.1,347.7 588.5,347.8 588.9,348.0 589.3,348.1 589.7,348.0 590.1,348.1 590.5,348.1 590.9,348.2 591.3,348.3 591.7,348.4 592.1,348.4 592.5,348.5 592.9,348.4 593.3,348.5 593.7,348.7 594.1,348.7 594.5,348.6 594.9,348.6 595.3,348.7 595.7,348.7 596.1,348.9 596.5,349.0 596.9,348.8 597.3,348.9 597.7,349.0 598.1,349.1 598.5,349.1 598.9,349.1 599.3,349.2 599.7,349.1 600.1,349.0 600.5,349.0 600.9,349.1 601.3,349.3 601.7,349.4 602.2,349.2 602.6,349.2 603.0,349.4 603.4,349.4 603.8,349.3 604.2,349.4 604.6,349.3 605.0,349.4 605.4,349.5 605.8,349.5 606.2,349.5 606.6,349.4 607.0,349.5 607.4,349.6 607.8,349.6 608.2,349.7 608.6,349.8 609.0,349.9 609.4,349.7 609.8,349.6 610.2,349.8 610.6,349.9 611.0,349.9 611.4,350.0 611.8,349.9 612.2,349.8 612.6,349.9 613.0,349.8 613.4,349.8 613.8,349.8 614.2,350.0 614.6,350.0 615.0,349.9 615.4,350.0 615.8,349.9 616.2,350.0 616.6,350.0 617.0,349.9 617.4,350.1 617.8,350.0 618.2,350.1 618.6,350.2 619.0,350.2 619.4,350.1 619.9,350.1 620.3,350.1 620.7,350.2 621.1,350.2 621.5,350.3 621.9,350.3 622.3,350.3 622.7,350.4 623.1,350.2 623.5,350.2 623.9,350.3 624.3,350.3 624.7,350.3 625.1,350.4 625.5,350.4 625.9,350.3 626.3,350.3 626.7,350.4 627.1,350.4 627.5,350.4 627.9,350.3 628.3,350.4 628.7,350.4 629.1,350.3 629.5,350.3 629.9,350.4 630.3,350.4 630.7,350.4 631.1,350.4 631.5,350.4 631.9,350.5 632.3,350.6 632.7,350.6 633.1,350.6 633.5,350.5 633.9,350.5 634.3,350.5 634.7,350.6 635.1,350.5 635.5,350.4 635.9,350.5 636.3,350.4 636.7,350.5 637.1,350.5 637.5,350.5 638.0,350.5 638.4,350.6 638.8,350.6 639.2,350.5 639.6,350.6 640.0,350.6 640.4,350.6 640.8,350.6 641.2,350.7 641.6,350.7 642.0,350.7 642.4,350.7 642.8,350.7 643.2,350.7 643.6,350.7 644.0,350.7 644.4,350.7 644.8,350.7 645.2,350.7 645.6,350.7 646.0,350.7 646.4,350.6 646.8,350.6 647.2,350.6 647.6,350.7 648.0,350.7 648.4,350.7 648.8,350.7 649.2,350.7 649.6,350.7 650.0,350.7 650.4,350.7 650.8,350.7 651.2,350.7 651.6,350.7 652.0,350.7 652.4,350.7 652.8,350.7 653.2,350.7 653.6,350.7 654.0,350.7 654.4,350.7 654.8,350.7 655.2,350.7 655.7,350.7 656.1,350.7 656.5,350.7 656.9,350.7 657.3,350.7 657.7,350.7 658.1,350.7 658.5,350.7 658.9,350.7 659.3,350.7 659.7,350.7 660.1,350.7 660.5,350.7 660.9,350.7 661.3,350.7 661.7,350.7 662.1,350.7 662.5,350.7 662.9,350.7 663.3,350.7 663.7,350.7 664.1,350.7 664.5,350.7" fill="none" stroke="#8eaadb" stroke-width="1.7" stroke-linejoin="round"/>
<rect x="503.6" y="221.8" width="160.89999999999998" height="129.2" fill="none" stroke="#262626" stroke-width="1.3"/>
<path d="M500.0 351.00 H503.6" stroke="#262626" stroke-width="1"/>
<text x="493.8" y="355.20" font-size="12.2" text-anchor="end" fill="#000" stroke="#000" stroke-width="0.2" >0</text>
<path d="M500.0 329.47 H503.6" stroke="#262626" stroke-width="1"/>
<text x="493.8" y="333.67" font-size="12.2" text-anchor="end" fill="#000" stroke="#000" stroke-width="0.2" >2000</text>
<path d="M500.0 307.93 H503.6" stroke="#262626" stroke-width="1"/>
<text x="493.8" y="312.13" font-size="12.2" text-anchor="end" fill="#000" stroke="#000" stroke-width="0.2" >4000</text>
<path d="M500.0 286.40 H503.6" stroke="#262626" stroke-width="1"/>
<text x="493.8" y="290.60" font-size="12.2" text-anchor="end" fill="#000" stroke="#000" stroke-width="0.2" >6000</text>
<path d="M500.0 264.87 H503.6" stroke="#262626" stroke-width="1"/>
<text x="493.8" y="269.07" font-size="12.2" text-anchor="end" fill="#000" stroke="#000" stroke-width="0.2" >8000</text>
<path d="M500.0 243.33 H503.6" stroke="#262626" stroke-width="1"/>
<text x="493.8" y="247.53" font-size="12.2" text-anchor="end" fill="#000" stroke="#000" stroke-width="0.2" >10000</text>
<path d="M500.0 221.80 H503.6" stroke="#262626" stroke-width="1"/>
<text x="493.8" y="226.00" font-size="12.2" text-anchor="end" fill="#000" stroke="#000" stroke-width="0.2" >12000</text>
<path d="M503.60 351 V354.6" stroke="#262626" stroke-width="1"/>
<text x="503.60" y="370.2" font-size="12.2" text-anchor="middle" fill="#000" stroke="#000" stroke-width="0.2" >430</text>
<path d="M523.71 351 V354.6" stroke="#262626" stroke-width="1"/>
<text x="523.71" y="370.2" font-size="12.2" text-anchor="middle" fill="#000" stroke="#000" stroke-width="0.2" >480</text>
<path d="M543.83 351 V354.6" stroke="#262626" stroke-width="1"/>
<text x="543.83" y="370.2" font-size="12.2" text-anchor="middle" fill="#000" stroke="#000" stroke-width="0.2" >530</text>
<path d="M563.94 351 V354.6" stroke="#262626" stroke-width="1"/>
<text x="563.94" y="370.2" font-size="12.2" text-anchor="middle" fill="#000" stroke="#000" stroke-width="0.2" >580</text>
<path d="M584.05 351 V354.6" stroke="#262626" stroke-width="1"/>
<text x="584.05" y="370.2" font-size="12.2" text-anchor="middle" fill="#000" stroke="#000" stroke-width="0.2" >630</text>
<path d="M604.16 351 V354.6" stroke="#262626" stroke-width="1"/>
<text x="604.16" y="370.2" font-size="12.2" text-anchor="middle" fill="#000" stroke="#000" stroke-width="0.2" >680</text>
<path d="M624.27 351 V354.6" stroke="#262626" stroke-width="1"/>
<text x="624.27" y="370.2" font-size="12.2" text-anchor="middle" fill="#000" stroke="#000" stroke-width="0.2" >730</text>
<path d="M644.39 351 V354.6" stroke="#262626" stroke-width="1"/>
<text x="644.39" y="370.2" font-size="12.2" text-anchor="middle" fill="#000" stroke="#000" stroke-width="0.2" >780</text>
<path d="M664.50 351 V354.6" stroke="#262626" stroke-width="1"/>
<text x="664.50" y="370.2" font-size="12.2" text-anchor="middle" fill="#000" stroke="#000" stroke-width="0.2" >830</text>
<text x="583.7" y="385" font-size="12.4" text-anchor="middle" fill="#000" stroke="#000" stroke-width="0.2" >Wavelength (nm)</text>
<text x="455.3" y="286.1" font-size="12.3" text-anchor="middle" fill="#000" stroke="#000" stroke-width="0.2" transform="rotate(-90 455.3 286.1)">FL intensity (a.u.)</text>
<path d="M595.6 238.40 H610.2" stroke="#3f72b8" stroke-width="1.8"/>
<text x="610.7" y="241.90" font-size="11.1" text-anchor="start" fill="#000" stroke="#000" stroke-width="0.2" >pH=1.0</text>
<path d="M595.6 253.60 H610.2" stroke="#b8403c" stroke-width="1.8"/>
<text x="610.7" y="257.10" font-size="11.1" text-anchor="start" fill="#000" stroke="#000" stroke-width="0.2" >pH=3.0</text>
<path d="M595.6 268.80 H610.2" stroke="#8fb552" stroke-width="1.8"/>
<text x="610.7" y="272.30" font-size="11.1" text-anchor="start" fill="#000" stroke="#000" stroke-width="0.2" >pH=5.0</text>
<path d="M595.6 284.00 H610.2" stroke="#6f55a0" stroke-width="1.8"/>
<text x="610.7" y="287.50" font-size="11.1" text-anchor="start" fill="#000" stroke="#000" stroke-width="0.2" >pH=7.4</text>
<path d="M595.6 299.20 H610.2" stroke="#3ea6c2" stroke-width="1.8"/>
<text x="610.7" y="302.70" font-size="11.1" text-anchor="start" fill="#000" stroke="#000" stroke-width="0.2" >pH=9.2</text>
<path d="M595.6 314.40 H610.2" stroke="#f08a3a" stroke-width="1.8"/>
<text x="610.7" y="317.90" font-size="11.1" text-anchor="start" fill="#000" stroke="#000" stroke-width="0.2" >pH=10.0</text>
<path d="M595.6 329.60 H610.2" stroke="#8eaadb" stroke-width="1.8"/>
<text x="610.7" y="333.10" font-size="11.1" text-anchor="start" fill="#000" stroke="#000" stroke-width="0.2" >pH=12.9</text>
</svg>
</body></html>
